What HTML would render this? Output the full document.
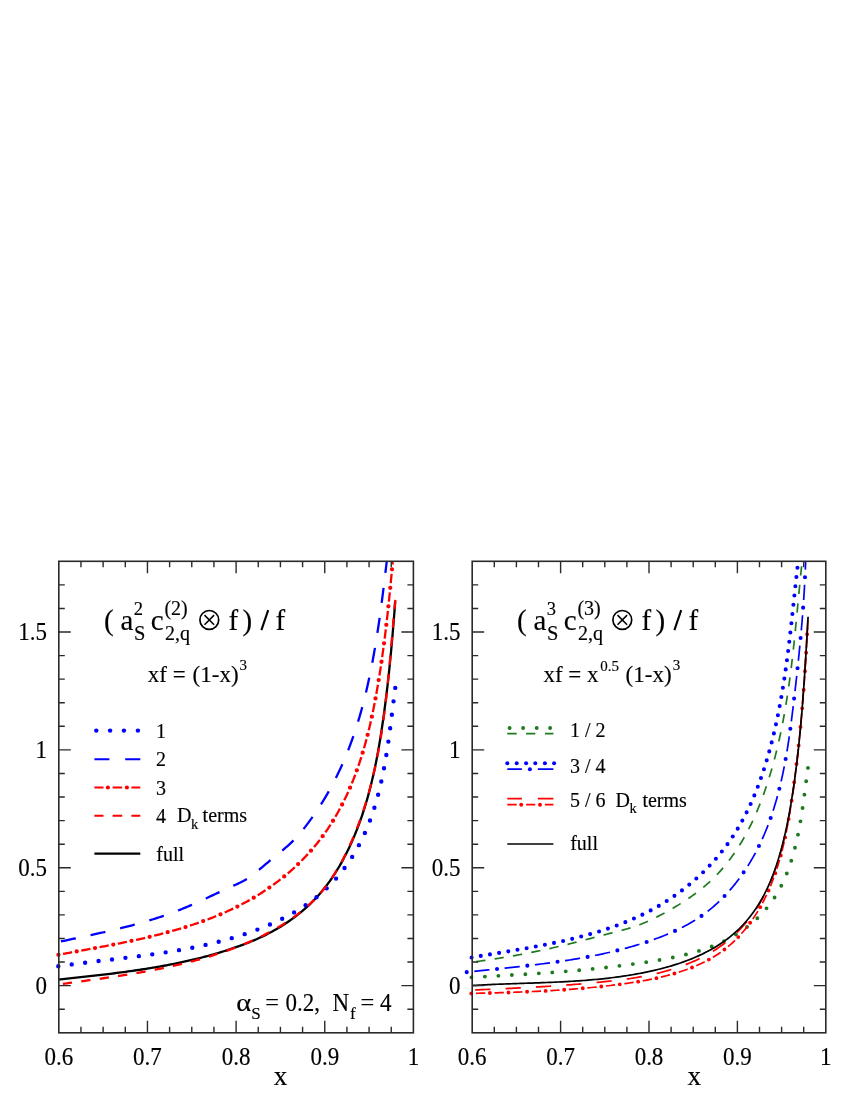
<!DOCTYPE html>
<html><head><meta charset="utf-8"><title>chart</title>
<style>html,body{margin:0;padding:0;background:#fff}svg{display:block}</style></head>
<body>
<svg width="850" height="1100" viewBox="0 0 850 1100" style="will-change:transform" font-family="Liberation Serif, serif" fill="#000"><style>text{stroke:#000;stroke-width:0.15px}</style>
<defs><clipPath id="cl"><rect x="58.8" y="561.3" width="354.59999999999997" height="471.5"/></clipPath><clipPath id="cr"><rect x="472.2" y="561.3" width="353.59999999999997" height="471.5"/></clipPath></defs>
<rect width="850" height="1100" fill="#fff"/>
<g id="left-curves">
<path d="M58.26,979.51 L60.50,979.27 L62.74,979.04 L64.99,978.80 L67.23,978.57 L69.48,978.33 L71.73,978.09 L73.98,977.85 L76.22,977.61 L78.47,977.37 L80.73,977.13 L82.98,976.89 L85.23,976.65 L87.48,976.40 L89.74,976.15 L91.99,975.90 L94.24,975.65 L96.50,975.39 L98.75,975.14 L101.01,974.88 L103.27,974.61 L105.52,974.35 L107.78,974.08 L110.03,973.80 L112.29,973.52 L114.55,973.24 L116.80,972.96 L119.06,972.67 L121.31,972.38 L123.57,972.08 L125.82,971.77 L128.08,971.47 L130.33,971.15 L132.59,970.84 L134.84,970.51 L137.09,970.19 L139.34,969.85 L141.59,969.51 L143.84,969.16 L146.09,968.81 L148.34,968.45 L150.59,968.09 L152.83,967.72 L155.08,967.34 L157.32,966.95 L159.56,966.56 L161.80,966.16 L164.04,965.75 L166.28,965.34 L168.52,964.91 L170.75,964.48 L172.99,964.04 L175.22,963.59 L177.45,963.14 L179.68,962.67 L181.91,962.20 L184.13,961.71 L186.35,961.22 L188.58,960.72 L190.80,960.21 L193.01,959.69 L195.23,959.16 L197.44,958.61 L199.65,958.06 L201.86,957.50 L204.06,956.93 L206.27,956.35 L208.47,955.75 L210.67,955.15 L212.86,954.53 L215.05,953.90 L217.24,953.26 L219.43,952.61 L221.61,951.95 L223.80,951.27 L225.97,950.59 L228.15,949.89 L230.32,949.18 L232.49,948.45 L234.65,947.71 L236.81,946.96 L238.97,946.19 L241.11,945.40 L243.25,944.60 L245.39,943.79 L247.52,942.95 L249.63,942.10 L251.75,941.23 L253.85,940.34 L255.94,939.44 L258.02,938.51 L260.10,937.57 L262.16,936.60 L264.21,935.61 L266.25,934.60 L268.27,933.57 L270.29,932.52 L272.29,931.44 L274.27,930.34 L276.25,929.22 L278.21,928.07 L280.15,926.90 L282.08,925.71 L283.99,924.50 L285.89,923.26 L287.77,922.00 L289.63,920.72 L291.48,919.41 L293.31,918.09 L295.12,916.73 L296.91,915.36 L298.68,913.97 L300.44,912.55 L302.17,911.10 L303.89,909.64 L305.58,908.15 L307.25,906.64 L308.91,905.11 L310.54,903.56 L312.14,901.98 L313.73,900.38 L315.29,898.75 L316.83,897.11 L318.35,895.44 L319.84,893.75 L321.31,892.03 L322.76,890.30 L324.18,888.54 L325.57,886.77 L326.95,884.97 L328.30,883.15 L329.63,881.32 L330.94,879.47 L332.22,877.60 L333.48,875.71 L334.73,873.81 L335.95,871.89 L337.15,869.96 L338.32,868.01 L339.48,866.05 L340.62,864.07 L341.74,862.09 L342.84,860.09 L343.91,858.08 L344.97,856.06 L346.02,854.03 L347.04,851.99 L348.04,849.94 L349.03,847.88 L349.99,845.82 L350.94,843.75 L351.88,841.67 L352.79,839.59 L353.69,837.50 L354.57,835.40 L355.44,833.30 L356.29,831.19 L357.12,829.07 L357.94,826.95 L358.74,824.83 L359.53,822.70 L360.30,820.56 L361.05,818.42 L361.80,816.27 L362.52,814.12 L363.24,811.96 L363.93,809.80 L364.62,807.63 L365.29,805.46 L365.95,803.28 L366.59,801.10 L367.23,798.92 L367.85,796.73 L368.45,794.53 L369.05,792.34 L369.63,790.14 L370.20,787.93 L370.76,785.73 L371.31,783.52 L371.85,781.30 L372.37,779.08 L372.89,776.86 L373.39,774.64 L373.89,772.42 L374.38,770.19 L374.85,767.96 L375.32,765.73 L375.77,763.49 L376.22,761.25 L376.66,759.01 L377.09,756.77 L377.51,754.53 L377.93,752.29 L378.33,750.04 L378.73,747.79 L379.12,745.55 L379.50,743.30 L379.88,741.05 L380.25,738.79 L380.61,736.54 L380.97,734.29 L381.32,732.04 L381.66,729.78 L382.00,727.53 L382.33,725.28 L382.66,723.02 L382.99,720.77 L383.30,718.51 L383.62,716.26 L383.93,714.01 L384.23,711.76 L384.53,709.50 L384.83,707.25 L385.12,705.00 L385.41,702.75 L385.70,700.50 L385.98,698.25 L386.26,696.00 L386.53,693.76 L386.80,691.51 L387.07,689.26 L387.33,687.01 L387.59,684.76 L387.85,682.51 L388.10,680.26 L388.35,678.01 L388.60,675.76 L388.84,673.51 L389.08,671.26 L389.32,669.01 L389.55,666.76 L389.78,664.51 L390.01,662.26 L390.23,660.00 L390.45,657.75 L390.67,655.50 L390.89,653.24 L391.10,650.99 L391.31,648.73 L391.52,646.47 L391.73,644.21 L391.93,641.96 L392.13,639.69 L392.33,637.43 L392.53,635.17 L392.72,632.91 L392.91,630.64 L393.10,628.38 L393.29,626.11 L393.48,623.84 L393.66,621.57 L393.84,619.30 L394.02,617.02 L394.20,614.75 L394.38,612.47 L394.55,610.19 L394.72,607.91 L394.89,605.63 L395.06,603.35 L395.23,601.06" fill="none" stroke="#000" stroke-width="2.3" stroke-linecap="butt" stroke-linejoin="round" clip-path="url(#cl)"/>
<path d="M53.52,943.05 L55.64,942.59 L57.77,942.13 L59.90,941.68 L62.02,941.22 L64.15,940.76 L66.28,940.31 L68.41,939.86 L70.54,939.41 L72.67,938.95 L74.81,938.50 L76.94,938.05 L79.07,937.60 L81.20,937.14 L83.34,936.69 L85.47,936.23 L87.60,935.77 L89.73,935.31 L91.87,934.85 L94.00,934.39 L96.13,933.92 L98.26,933.45 L100.39,932.97 L102.52,932.50 L104.64,932.01 L106.77,931.53 L108.90,931.04 L111.02,930.54 L113.15,930.04 L115.27,929.54 L117.39,929.03 L119.51,928.51 L121.62,927.99 L123.74,927.46 L125.85,926.93 L127.97,926.39 L130.08,925.84 L132.18,925.28 L134.29,924.72 L136.39,924.14 L138.49,923.56 L140.59,922.98 L142.69,922.38 L144.78,921.77 L146.87,921.16 L148.96,920.53 L151.04,919.89 L153.13,919.25 L155.20,918.59 L157.28,917.93 L159.35,917.25 L161.42,916.56 L163.49,915.86 L165.55,915.15 L167.60,914.42 L169.66,913.69 L171.71,912.94 L173.76,912.17 L175.80,911.40 L177.84,910.61 L179.87,909.81 L181.90,908.99 L183.92,908.16 L185.94,907.32 L187.96,906.47 L189.98,905.61 L191.99,904.73 L193.99,903.85 L196.00,902.96 L197.99,902.07 L199.99,901.16 L201.99,900.26 L203.98,899.34 L205.96,898.43 L207.95,897.51 L209.93,896.58 L211.91,895.66 L213.89,894.73 L215.87,893.81 L217.84,892.89 L219.82,891.97 L221.79,891.05 L223.76,890.13 L225.72,889.22 L227.69,888.31 L229.66,887.41 L231.62,886.52 L233.58,885.63 L235.55,884.75 L237.50,883.87 L239.44,882.97 L241.36,882.03 L243.26,881.06 L245.12,880.02 L246.94,878.93 L248.74,877.77 L250.50,876.55 L252.23,875.29 L253.94,873.99 L255.64,872.65 L257.32,871.28 L258.99,869.89 L260.65,868.49 L262.31,867.07 L263.98,865.65 L265.65,864.23 L267.33,862.83 L269.02,861.43 L270.71,860.04 L272.41,858.65 L274.12,857.27 L275.82,855.89 L277.52,854.50 L279.21,853.11 L280.90,851.72 L282.58,850.31 L284.24,848.89 L285.89,847.46 L287.52,846.02 L289.14,844.55 L290.73,843.07 L292.30,841.56 L293.84,840.03 L295.35,838.47 L296.83,836.89 L298.28,835.27 L299.71,833.64 L301.12,831.98 L302.50,830.30 L303.86,828.61 L305.20,826.89 L306.53,825.17 L307.84,823.42 L309.14,821.67 L310.43,819.91 L311.70,818.14 L312.96,816.36 L314.21,814.57 L315.45,812.77 L316.67,810.97 L317.89,809.15 L319.08,807.32 L320.27,805.49 L321.44,803.65 L322.60,801.80 L323.74,799.94 L324.87,798.07 L325.98,796.20 L327.08,794.31 L328.17,792.42 L329.24,790.52 L330.30,788.62 L331.34,786.70 L332.37,784.78 L333.38,782.85 L334.39,780.92 L335.37,778.97 L336.35,777.02 L337.31,775.07 L338.26,773.10 L339.19,771.13 L340.11,769.16 L341.02,767.18 L341.91,765.19 L342.80,763.20 L343.66,761.20 L344.52,759.19 L345.36,757.18 L346.20,755.16 L347.02,753.14 L347.82,751.12 L348.62,749.09 L349.40,747.05 L350.17,745.01 L350.93,742.96 L351.68,740.91 L352.41,738.86 L353.14,736.80 L353.85,734.74 L354.55,732.67 L355.24,730.60 L355.92,728.53 L356.59,726.45 L357.24,724.37 L357.89,722.29 L358.52,720.20 L359.15,718.11 L359.76,716.02 L360.37,713.92 L360.96,711.83 L361.54,709.72 L362.12,707.62 L362.68,705.52 L363.23,703.41 L363.78,701.30 L364.31,699.19 L364.84,697.07 L365.36,694.96 L365.87,692.84 L366.37,690.72 L366.86,688.60 L367.35,686.47 L367.83,684.35 L368.30,682.22 L368.76,680.09 L369.22,677.96 L369.67,675.83 L370.11,673.70 L370.55,671.56 L370.98,669.43 L371.40,667.29 L371.82,665.15 L372.23,663.01 L372.63,660.87 L373.03,658.73 L373.42,656.58 L373.81,654.44 L374.19,652.29 L374.57,650.15 L374.94,648.00 L375.30,645.85 L375.66,643.70 L376.02,641.55 L376.37,639.39 L376.71,637.24 L377.05,635.09 L377.39,632.93 L377.72,630.78 L378.05,628.62 L378.37,626.46 L378.69,624.31 L379.00,622.15 L379.32,619.99 L379.62,617.83 L379.93,615.67 L380.23,613.51 L380.53,611.35 L380.82,609.19 L381.11,607.03 L381.40,604.86 L381.68,602.70 L381.97,600.54 L382.25,598.38 L382.52,596.21 L382.80,594.05 L383.07,591.89 L383.34,589.72 L383.61,587.56 L383.88,585.40 L384.14,583.23 L384.40,581.07 L384.67,578.91 L384.93,576.74 L385.19,574.58 L385.44,572.42 L385.70,570.25 L385.96,568.09 L386.21,565.93 L386.46,563.77 L386.72,561.61" fill="none" stroke="#0000ff" stroke-width="2.3" stroke-linecap="butt" stroke-linejoin="round" stroke-dasharray="15.15 15.15" stroke-dashoffset="-7.6" clip-path="url(#cl)"/>
<path d="M58.42,954.78 L60.56,954.38 L62.71,953.98 L64.86,953.58 L67.02,953.18 L69.18,952.78 L71.34,952.39 L73.52,951.99 L75.69,951.59 L77.87,951.20 L80.05,950.80 L82.24,950.40 L84.43,950.00 L86.63,949.60 L88.82,949.20 L91.03,948.79 L93.23,948.38 L95.43,947.98 L97.64,947.56 L99.85,947.15 L102.07,946.74 L104.28,946.32 L106.50,945.89 L108.72,945.47 L110.94,945.04 L113.16,944.61 L115.39,944.17 L117.61,943.73 L119.83,943.28 L122.06,942.83 L124.29,942.38 L126.51,941.92 L128.74,941.45 L130.97,940.98 L133.19,940.51 L135.42,940.02 L137.65,939.53 L139.87,939.04 L142.10,938.54 L144.32,938.03 L146.54,937.52 L148.76,937.00 L150.98,936.47 L153.20,935.93 L155.42,935.39 L157.63,934.83 L159.84,934.27 L162.05,933.70 L164.26,933.13 L166.46,932.54 L168.66,931.95 L170.86,931.34 L173.06,930.73 L175.25,930.10 L177.44,929.47 L179.62,928.83 L181.80,928.18 L183.98,927.51 L186.15,926.84 L188.32,926.15 L190.49,925.46 L192.64,924.75 L194.80,924.03 L196.95,923.30 L199.09,922.56 L201.23,921.80 L203.36,921.03 L205.49,920.25 L207.61,919.46 L209.73,918.66 L211.84,917.84 L213.94,917.01 L216.04,916.16 L218.12,915.30 L220.21,914.43 L222.28,913.54 L224.35,912.64 L226.41,911.72 L228.47,910.79 L230.51,909.85 L232.55,908.89 L234.58,907.91 L236.60,906.92 L238.61,905.91 L240.62,904.88 L242.61,903.84 L244.60,902.79 L246.58,901.71 L248.54,900.62 L250.50,899.52 L252.45,898.39 L254.39,897.25 L256.32,896.09 L258.24,894.91 L260.15,893.72 L262.05,892.50 L263.93,891.27 L265.81,890.03 L267.68,888.76 L269.53,887.48 L271.37,886.18 L273.20,884.87 L275.02,883.54 L276.82,882.19 L278.61,880.82 L280.39,879.44 L282.16,878.04 L283.91,876.62 L285.65,875.19 L287.37,873.75 L289.09,872.28 L290.78,870.80 L292.46,869.31 L294.13,867.79 L295.78,866.26 L297.42,864.72 L299.04,863.16 L300.64,861.59 L302.23,859.99 L303.81,858.39 L305.36,856.77 L306.90,855.13 L308.43,853.48 L309.93,851.81 L311.42,850.13 L312.89,848.43 L314.35,846.71 L315.78,844.99 L317.20,843.24 L318.60,841.49 L319.98,839.71 L321.34,837.93 L322.68,836.13 L324.00,834.31 L325.30,832.48 L326.59,830.64 L327.85,828.78 L329.10,826.91 L330.33,825.03 L331.53,823.13 L332.72,821.22 L333.90,819.30 L335.05,817.37 L336.18,815.43 L337.30,813.48 L338.40,811.51 L339.48,809.54 L340.55,807.55 L341.59,805.56 L342.62,803.55 L343.63,801.54 L344.63,799.52 L345.60,797.48 L346.57,795.44 L347.51,793.40 L348.44,791.34 L349.35,789.28 L350.24,787.21 L351.12,785.13 L351.98,783.05 L352.83,780.96 L353.66,778.86 L354.48,776.76 L355.28,774.65 L356.06,772.54 L356.83,770.41 L357.59,768.29 L358.33,766.16 L359.06,764.02 L359.78,761.87 L360.48,759.73 L361.17,757.57 L361.84,755.42 L362.50,753.25 L363.15,751.09 L363.79,748.91 L364.42,746.74 L365.03,744.56 L365.63,742.38 L366.22,740.19 L366.80,738.00 L367.37,735.80 L367.93,733.60 L368.47,731.40 L369.01,729.20 L369.54,726.99 L370.05,724.78 L370.56,722.57 L371.06,720.35 L371.55,718.14 L372.03,715.92 L372.50,713.69 L372.96,711.47 L373.41,709.25 L373.86,707.02 L374.30,704.79 L374.73,702.56 L375.15,700.33 L375.57,698.10 L375.98,695.87 L376.38,693.63 L376.77,691.40 L377.16,689.17 L377.55,686.93 L377.93,684.70 L378.30,682.46 L378.66,680.23 L379.03,677.99 L379.38,675.76 L379.74,673.53 L380.08,671.29 L380.42,669.06 L380.76,666.83 L381.09,664.60 L381.42,662.36 L381.75,660.13 L382.06,657.90 L382.38,655.67 L382.69,653.44 L383.00,651.20 L383.30,648.97 L383.60,646.74 L383.89,644.51 L384.18,642.28 L384.47,640.04 L384.75,637.81 L385.03,635.58 L385.30,633.35 L385.58,631.12 L385.85,628.88 L386.11,626.65 L386.37,624.42 L386.63,622.18 L386.89,619.95 L387.14,617.72 L387.39,615.48 L387.64,613.25 L387.88,611.01 L388.12,608.78 L388.36,606.54 L388.60,604.31 L388.83,602.07 L389.06,599.83 L389.29,597.60 L389.52,595.36 L389.74,593.12 L389.96,590.88 L390.19,588.64 L390.40,586.40 L390.62,584.16 L390.84,581.92 L391.05,579.68 L391.26,577.43 L391.47,575.19 L391.68,572.95 L391.89,570.70 L392.09,568.45 L392.30,566.21 L392.50,563.96 L392.70,561.71" fill="none" stroke="#ff0000" stroke-width="2.3" stroke-linecap="butt" stroke-linejoin="round" stroke-dasharray="9.30 9.30" stroke-dashoffset="-4.65" clip-path="url(#cl)"/>
<path d="M58.42,954.78 L60.56,954.38 L62.71,953.98 L64.86,953.58 L67.02,953.18 L69.18,952.78 L71.34,952.39 L73.52,951.99 L75.69,951.59 L77.87,951.20 L80.05,950.80 L82.24,950.40 L84.43,950.00 L86.63,949.60 L88.82,949.20 L91.03,948.79 L93.23,948.38 L95.43,947.98 L97.64,947.56 L99.85,947.15 L102.07,946.74 L104.28,946.32 L106.50,945.89 L108.72,945.47 L110.94,945.04 L113.16,944.61 L115.39,944.17 L117.61,943.73 L119.83,943.28 L122.06,942.83 L124.29,942.38 L126.51,941.92 L128.74,941.45 L130.97,940.98 L133.19,940.51 L135.42,940.02 L137.65,939.53 L139.87,939.04 L142.10,938.54 L144.32,938.03 L146.54,937.52 L148.76,937.00 L150.98,936.47 L153.20,935.93 L155.42,935.39 L157.63,934.83 L159.84,934.27 L162.05,933.70 L164.26,933.13 L166.46,932.54 L168.66,931.95 L170.86,931.34 L173.06,930.73 L175.25,930.10 L177.44,929.47 L179.62,928.83 L181.80,928.18 L183.98,927.51 L186.15,926.84 L188.32,926.15 L190.49,925.46 L192.64,924.75 L194.80,924.03 L196.95,923.30 L199.09,922.56 L201.23,921.80 L203.36,921.03 L205.49,920.25 L207.61,919.46 L209.73,918.66 L211.84,917.84 L213.94,917.01 L216.04,916.16 L218.12,915.30 L220.21,914.43 L222.28,913.54 L224.35,912.64 L226.41,911.72 L228.47,910.79 L230.51,909.85 L232.55,908.89 L234.58,907.91 L236.60,906.92 L238.61,905.91 L240.62,904.88 L242.61,903.84 L244.60,902.79 L246.58,901.71 L248.54,900.62 L250.50,899.52 L252.45,898.39 L254.39,897.25 L256.32,896.09 L258.24,894.91 L260.15,893.72 L262.05,892.50 L263.93,891.27 L265.81,890.03 L267.68,888.76 L269.53,887.48 L271.37,886.18 L273.20,884.87 L275.02,883.54 L276.82,882.19 L278.61,880.82 L280.39,879.44 L282.16,878.04 L283.91,876.62 L285.65,875.19 L287.37,873.75 L289.09,872.28 L290.78,870.80 L292.46,869.31 L294.13,867.79 L295.78,866.26 L297.42,864.72 L299.04,863.16 L300.64,861.59 L302.23,859.99 L303.81,858.39 L305.36,856.77 L306.90,855.13 L308.43,853.48 L309.93,851.81 L311.42,850.13 L312.89,848.43 L314.35,846.71 L315.78,844.99 L317.20,843.24 L318.60,841.49 L319.98,839.71 L321.34,837.93 L322.68,836.13 L324.00,834.31 L325.30,832.48 L326.59,830.64 L327.85,828.78 L329.10,826.91 L330.33,825.03 L331.53,823.13 L332.72,821.22 L333.90,819.30 L335.05,817.37 L336.18,815.43 L337.30,813.48 L338.40,811.51 L339.48,809.54 L340.55,807.55 L341.59,805.56 L342.62,803.55 L343.63,801.54 L344.63,799.52 L345.60,797.48 L346.57,795.44 L347.51,793.40 L348.44,791.34 L349.35,789.28 L350.24,787.21 L351.12,785.13 L351.98,783.05 L352.83,780.96 L353.66,778.86 L354.48,776.76 L355.28,774.65 L356.06,772.54 L356.83,770.41 L357.59,768.29 L358.33,766.16 L359.06,764.02 L359.78,761.87 L360.48,759.73 L361.17,757.57 L361.84,755.42 L362.50,753.25 L363.15,751.09 L363.79,748.91 L364.42,746.74 L365.03,744.56 L365.63,742.38 L366.22,740.19 L366.80,738.00 L367.37,735.80 L367.93,733.60 L368.47,731.40 L369.01,729.20 L369.54,726.99 L370.05,724.78 L370.56,722.57 L371.06,720.35 L371.55,718.14 L372.03,715.92 L372.50,713.69 L372.96,711.47 L373.41,709.25 L373.86,707.02 L374.30,704.79 L374.73,702.56 L375.15,700.33 L375.57,698.10 L375.98,695.87 L376.38,693.63 L376.77,691.40 L377.16,689.17 L377.55,686.93 L377.93,684.70 L378.30,682.46 L378.66,680.23 L379.03,677.99 L379.38,675.76 L379.74,673.53 L380.08,671.29 L380.42,669.06 L380.76,666.83 L381.09,664.60 L381.42,662.36 L381.75,660.13 L382.06,657.90 L382.38,655.67 L382.69,653.44 L383.00,651.20 L383.30,648.97 L383.60,646.74 L383.89,644.51 L384.18,642.28 L384.47,640.04 L384.75,637.81 L385.03,635.58 L385.30,633.35 L385.58,631.12 L385.85,628.88 L386.11,626.65 L386.37,624.42 L386.63,622.18 L386.89,619.95 L387.14,617.72 L387.39,615.48 L387.64,613.25 L387.88,611.01 L388.12,608.78 L388.36,606.54 L388.60,604.31 L388.83,602.07 L389.06,599.83 L389.29,597.60 L389.52,595.36 L389.74,593.12 L389.96,590.88 L390.19,588.64 L390.40,586.40 L390.62,584.16 L390.84,581.92 L391.05,579.68 L391.26,577.43 L391.47,575.19 L391.68,572.95 L391.89,570.70 L392.09,568.45 L392.30,566.21 L392.50,563.96 L392.70,561.71" fill="none" stroke="#ff0000" stroke-width="4.3" stroke-linecap="round" stroke-linejoin="round" stroke-dasharray="0 18.60" stroke-dashoffset="0"/>
<path d="M58.31,966.27 L60.21,966.00 L62.11,965.73 L64.01,965.46 L65.91,965.20 L67.81,964.94 L69.72,964.68 L71.62,964.43 L73.53,964.18 L75.44,963.93 L77.35,963.68 L79.26,963.44 L81.18,963.20 L83.09,962.96 L85.01,962.72 L86.93,962.48 L88.84,962.24 L90.76,962.01 L92.68,961.78 L94.61,961.55 L96.53,961.31 L98.45,961.08 L100.37,960.85 L102.30,960.62 L104.22,960.39 L106.15,960.17 L108.08,959.94 L110.00,959.71 L111.93,959.48 L113.86,959.25 L115.79,959.02 L117.72,958.79 L119.64,958.55 L121.57,958.32 L123.50,958.09 L125.43,957.85 L127.36,957.61 L129.29,957.37 L131.22,957.13 L133.15,956.89 L135.08,956.65 L137.01,956.40 L138.94,956.15 L140.87,955.90 L142.80,955.64 L144.73,955.39 L146.66,955.13 L148.59,954.86 L150.52,954.60 L152.44,954.33 L154.37,954.05 L156.30,953.78 L158.22,953.50 L160.15,953.21 L162.07,952.92 L163.99,952.63 L165.92,952.33 L167.84,952.03 L169.76,951.72 L171.68,951.41 L173.60,951.09 L175.51,950.77 L177.43,950.45 L179.35,950.11 L181.26,949.78 L183.17,949.43 L185.08,949.08 L186.99,948.73 L188.90,948.36 L190.81,948.00 L192.72,947.62 L194.62,947.24 L196.52,946.85 L198.43,946.46 L200.32,946.06 L202.22,945.65 L204.12,945.23 L206.01,944.81 L207.90,944.38 L209.79,943.94 L211.68,943.49 L213.57,943.04 L215.45,942.57 L217.33,942.10 L219.21,941.62 L221.09,941.13 L222.97,940.63 L224.84,940.13 L226.71,939.61 L228.58,939.09 L230.45,938.55 L232.31,938.01 L234.17,937.46 L236.03,936.89 L237.88,936.32 L239.74,935.74 L241.59,935.14 L243.43,934.54 L245.28,933.93 L247.12,933.30 L248.96,932.67 L250.79,932.02 L252.63,931.36 L254.46,930.69 L256.28,930.01 L258.11,929.32 L259.93,928.61 L261.74,927.90 L263.55,927.17 L265.36,926.43 L267.16,925.68 L268.96,924.91 L270.75,924.14 L272.54,923.34 L274.32,922.54 L276.10,921.72 L277.86,920.89 L279.62,920.05 L281.38,919.19 L283.12,918.32 L284.86,917.44 L286.59,916.54 L288.31,915.62 L290.02,914.70 L291.72,913.75 L293.41,912.79 L295.09,911.82 L296.76,910.83 L298.42,909.83 L300.07,908.81 L301.71,907.78 L303.33,906.73 L304.94,905.66 L306.54,904.58 L308.13,903.48 L309.71,902.37 L311.27,901.24 L312.81,900.09 L314.35,898.92 L315.87,897.74 L317.37,896.54 L318.86,895.32 L320.33,894.09 L321.79,892.84 L323.23,891.57 L324.65,890.28 L326.06,888.97 L327.45,887.65 L328.82,886.30 L330.18,884.94 L331.51,883.56 L332.83,882.17 L334.14,880.76 L335.42,879.33 L336.69,877.88 L337.94,876.42 L339.18,874.94 L340.40,873.45 L341.60,871.94 L342.78,870.42 L343.94,868.88 L345.09,867.33 L346.22,865.77 L347.34,864.19 L348.43,862.60 L349.51,861.00 L350.58,859.38 L351.62,857.76 L352.65,856.12 L353.66,854.47 L354.66,852.80 L355.63,851.13 L356.59,849.45 L357.54,847.76 L358.46,846.05 L359.37,844.34 L360.27,842.62 L361.14,840.89 L362.00,839.15 L362.84,837.41 L363.67,835.65 L364.48,833.89 L365.27,832.12 L366.04,830.35 L366.80,828.56 L367.54,826.77 L368.27,824.98 L368.98,823.18 L369.67,821.37 L370.35,819.55 L371.02,817.73 L371.67,815.91 L372.30,814.08 L372.93,812.24 L373.53,810.40 L374.13,808.55 L374.71,806.70 L375.28,804.84 L375.83,802.98 L376.37,801.11 L376.90,799.24 L377.42,797.37 L377.93,795.49 L378.42,793.60 L378.90,791.72 L379.38,789.83 L379.84,787.93 L380.29,786.03 L380.73,784.13 L381.16,782.23 L381.58,780.32 L381.99,778.41 L382.39,776.50 L382.78,774.59 L383.17,772.67 L383.54,770.75 L383.91,768.83 L384.27,766.91 L384.62,764.98 L384.96,763.06 L385.30,761.13 L385.63,759.20 L385.95,757.27 L386.27,755.34 L386.58,753.41 L386.88,751.48 L387.18,749.54 L387.47,747.61 L387.76,745.68 L388.04,743.74 L388.32,741.81 L388.59,739.88 L388.86,737.94 L389.13,736.01 L389.39,734.08 L389.65,732.15 L389.90,730.22 L390.15,728.29 L390.40,726.36 L390.65,724.44 L390.89,722.51 L391.14,720.59 L391.38,718.67 L391.62,716.75 L391.85,714.83 L392.09,712.92 L392.33,711.01 L392.56,709.10 L392.80,707.19 L393.04,705.29 L393.27,703.39 L393.51,701.49 L393.75,699.60 L393.99,697.71 L394.23,695.82 L394.47,693.94 L394.71,692.06 L394.96,690.18 L395.21,688.31 L395.46,686.45" fill="none" stroke="#0000ff" stroke-width="4.4" stroke-linecap="round" stroke-linejoin="round" stroke-dasharray="0 13.53" stroke-dashoffset="0"/>
<path d="M58.22,984.51 L60.46,984.20 L62.70,983.89 L64.95,983.58 L67.19,983.27 L69.44,982.96 L71.69,982.65 L73.94,982.34 L76.19,982.03 L78.44,981.72 L80.69,981.41 L82.95,981.10 L85.20,980.79 L87.46,980.48 L89.72,980.17 L91.98,979.85 L94.24,979.53 L96.50,979.22 L98.76,978.90 L101.02,978.57 L103.28,978.25 L105.54,977.92 L107.80,977.59 L110.07,977.26 L112.33,976.92 L114.59,976.58 L116.85,976.24 L119.11,975.89 L121.38,975.54 L123.64,975.18 L125.90,974.82 L128.16,974.46 L130.42,974.09 L132.68,973.72 L134.93,973.34 L137.19,972.95 L139.45,972.56 L141.70,972.17 L143.96,971.77 L146.21,971.36 L148.46,970.95 L150.71,970.53 L152.96,970.10 L155.21,969.67 L157.45,969.23 L159.70,968.78 L161.94,968.33 L164.18,967.87 L166.42,967.40 L168.66,966.92 L170.89,966.43 L173.12,965.94 L175.35,965.44 L177.58,964.93 L179.80,964.41 L182.03,963.88 L184.25,963.34 L186.46,962.79 L188.68,962.23 L190.89,961.67 L193.10,961.09 L195.30,960.50 L197.50,959.90 L199.70,959.29 L201.90,958.67 L204.09,958.04 L206.28,957.40 L208.46,956.75 L210.65,956.09 L212.82,955.41 L215.00,954.72 L217.17,954.02 L219.33,953.31 L221.50,952.58 L223.65,951.85 L225.81,951.10 L227.96,950.33 L230.10,949.56 L232.24,948.77 L234.38,947.96 L236.51,947.14 L238.63,946.31 L240.76,945.47 L242.87,944.61 L244.98,943.73 L247.09,942.84 L249.19,941.94 L251.29,941.02 L253.38,940.08 L255.46,939.13 L257.54,938.16 L259.61,937.18 L261.67,936.18 L263.73,935.16 L265.77,934.13 L267.81,933.08 L269.83,932.01 L271.85,930.92 L273.85,929.81 L275.84,928.68 L277.82,927.54 L279.79,926.37 L281.74,925.19 L283.68,923.98 L285.60,922.76 L287.51,921.51 L289.40,920.24 L291.27,918.95 L293.13,917.64 L294.97,916.31 L296.79,914.95 L298.60,913.57 L300.38,912.17 L302.15,910.75 L303.89,909.30 L305.61,907.82 L307.31,906.33 L308.99,904.80 L310.65,903.26 L312.28,901.68 L313.89,900.08 L315.48,898.46 L317.04,896.81 L318.57,895.13 L320.08,893.42 L321.56,891.69 L323.02,889.94 L324.45,888.16 L325.85,886.35 L327.23,884.53 L328.59,882.68 L329.92,880.81 L331.23,878.92 L332.51,877.02 L333.77,875.09 L335.00,873.15 L336.21,871.20 L337.40,869.23 L338.57,867.25 L339.71,865.25 L340.83,863.25 L341.93,861.23 L343.01,859.20 L344.07,857.16 L345.11,855.11 L346.14,853.06 L347.14,851.00 L348.13,848.93 L349.10,846.85 L350.05,844.77 L350.99,842.68 L351.91,840.59 L352.82,838.49 L353.71,836.39 L354.59,834.28 L355.45,832.17 L356.29,830.05 L357.13,827.93 L357.94,825.80 L358.75,823.67 L359.54,821.53 L360.31,819.40 L361.07,817.25 L361.82,815.10 L362.56,812.95 L363.28,810.79 L363.98,808.63 L364.68,806.47 L365.36,804.30 L366.03,802.13 L366.69,799.95 L367.33,797.77 L367.97,795.59 L368.59,793.40 L369.20,791.21 L369.79,789.02 L370.38,786.82 L370.96,784.62 L371.52,782.42 L372.07,780.21 L372.61,778.00 L373.14,775.79 L373.66,773.57 L374.17,771.35 L374.68,769.13 L375.17,766.91 L375.65,764.68 L376.12,762.45 L376.58,760.22 L377.03,757.98 L377.47,755.74 L377.91,753.50 L378.33,751.26 L378.75,749.02 L379.16,746.77 L379.55,744.52 L379.95,742.27 L380.33,740.02 L380.70,737.77 L381.07,735.51 L381.43,733.25 L381.79,730.99 L382.13,728.73 L382.47,726.47 L382.80,724.20 L383.13,721.94 L383.45,719.67 L383.76,717.40 L384.07,715.13 L384.37,712.86 L384.66,710.59 L384.95,708.32 L385.23,706.04 L385.51,703.77 L385.78,701.49 L386.05,699.22 L386.31,696.94 L386.57,694.66 L386.82,692.38 L387.07,690.11 L387.32,687.83 L387.56,685.55 L387.80,683.27 L388.03,680.99 L388.26,678.71 L388.49,676.43 L388.71,674.15 L388.93,671.87 L389.15,669.59 L389.36,667.31 L389.58,665.03 L389.79,662.75 L389.99,660.47 L390.20,658.19 L390.40,655.92 L390.60,653.64 L390.81,651.36 L391.00,649.09 L391.20,646.81 L391.40,644.54 L391.60,642.26 L391.79,639.99 L391.99,637.72 L392.18,635.45 L392.37,633.18 L392.57,630.91 L392.76,628.65 L392.96,626.38 L393.15,624.12 L393.35,621.86 L393.54,619.60 L393.74,617.34 L393.94,615.08 L394.14,612.83 L394.34,610.58 L394.54,608.33 L394.75,606.08 L394.95,603.83 L395.16,601.58 L395.37,599.34" fill="none" stroke="#ff0000" stroke-width="2.3" stroke-linecap="butt" stroke-linejoin="round" stroke-dasharray="9.30 9.30" stroke-dashoffset="-4.65" clip-path="url(#cl)"/>
</g>
<g id="right-curves">
<path d="M471.43,977.37 L473.23,977.27 L475.04,977.17 L476.84,977.07 L478.64,976.97 L480.44,976.87 L482.24,976.77 L484.03,976.67 L485.83,976.57 L487.62,976.47 L489.41,976.37 L491.20,976.27 L492.99,976.17 L494.77,976.07 L496.56,975.96 L498.34,975.86 L500.13,975.76 L501.91,975.66 L503.69,975.56 L505.47,975.45 L507.25,975.35 L509.02,975.24 L510.80,975.14 L512.57,975.03 L514.35,974.93 L516.12,974.82 L517.89,974.71 L519.66,974.60 L521.43,974.49 L523.20,974.38 L524.97,974.27 L526.74,974.16 L528.50,974.05 L530.27,973.93 L532.03,973.82 L533.79,973.70 L535.56,973.58 L537.32,973.46 L539.08,973.34 L540.84,973.22 L542.60,973.10 L544.36,972.97 L546.12,972.85 L547.88,972.72 L549.64,972.59 L551.39,972.46 L553.15,972.33 L554.91,972.20 L556.66,972.06 L558.42,971.93 L560.17,971.79 L561.93,971.65 L563.68,971.51 L565.44,971.36 L567.19,971.22 L568.94,971.07 L570.70,970.92 L572.45,970.77 L574.21,970.62 L575.96,970.46 L577.71,970.31 L579.46,970.15 L581.22,969.99 L582.97,969.82 L584.72,969.66 L586.48,969.49 L588.23,969.32 L589.98,969.15 L591.74,968.97 L593.49,968.79 L595.25,968.61 L597.00,968.43 L598.75,968.24 L600.51,968.06 L602.26,967.87 L604.02,967.67 L605.77,967.48 L607.53,967.28 L609.29,967.08 L611.04,966.87 L612.80,966.67 L614.56,966.46 L616.32,966.24 L618.08,966.03 L619.84,965.81 L621.60,965.59 L623.36,965.36 L625.12,965.13 L626.88,964.90 L628.64,964.67 L630.41,964.43 L632.17,964.19 L633.94,963.94 L635.70,963.69 L637.47,963.44 L639.24,963.19 L641.01,962.93 L642.78,962.67 L644.55,962.40 L646.32,962.13 L648.09,961.86 L649.87,961.58 L651.64,961.30 L653.42,961.02 L655.19,960.73 L656.96,960.43 L658.74,960.13 L660.51,959.82 L662.28,959.51 L664.06,959.19 L665.83,958.86 L667.59,958.53 L669.36,958.19 L671.13,957.84 L672.89,957.48 L674.65,957.11 L676.41,956.74 L678.16,956.35 L679.91,955.96 L681.66,955.56 L683.41,955.14 L685.15,954.72 L686.88,954.29 L688.61,953.84 L690.34,953.38 L692.06,952.91 L693.78,952.43 L695.49,951.94 L697.20,951.43 L698.90,950.92 L700.60,950.38 L702.29,949.84 L703.97,949.28 L705.64,948.70 L707.31,948.11 L708.97,947.51 L710.63,946.89 L712.27,946.26 L713.91,945.60 L715.54,944.94 L717.17,944.25 L718.78,943.55 L720.38,942.84 L721.98,942.10 L723.57,941.35 L725.14,940.58 L726.71,939.79 L728.27,938.98 L729.81,938.15 L731.35,937.30 L732.88,936.44 L734.39,935.55 L735.90,934.64 L737.39,933.71 L738.87,932.76 L740.34,931.79 L741.79,930.80 L743.24,929.79 L744.67,928.76 L746.08,927.71 L747.49,926.64 L748.87,925.55 L750.25,924.44 L751.60,923.31 L752.95,922.16 L754.27,921.00 L755.58,919.81 L756.87,918.61 L758.15,917.39 L759.41,916.14 L760.65,914.89 L761.87,913.61 L763.07,912.31 L764.25,911.00 L765.42,909.67 L766.56,908.33 L767.68,906.96 L768.78,905.58 L769.87,904.19 L770.93,902.77 L771.96,901.34 L772.98,899.90 L773.97,898.43 L774.94,896.96 L775.89,895.46 L776.81,893.96 L777.71,892.43 L778.59,890.90 L779.44,889.34 L780.28,887.78 L781.09,886.21 L781.89,884.62 L782.66,883.02 L783.41,881.41 L784.15,879.79 L784.86,878.16 L785.56,876.52 L786.24,874.87 L786.90,873.21 L787.55,871.55 L788.17,869.88 L788.78,868.20 L789.38,866.52 L789.96,864.83 L790.52,863.13 L791.07,861.43 L791.61,859.73 L792.13,858.02 L792.64,856.31 L793.13,854.60 L793.61,852.88 L794.08,851.16 L794.54,849.43 L794.99,847.71 L795.42,845.98 L795.84,844.25 L796.25,842.51 L796.65,840.77 L797.04,839.03 L797.42,837.29 L797.79,835.55 L798.15,833.80 L798.50,832.06 L798.85,830.31 L799.18,828.56 L799.51,826.80 L799.82,825.05 L800.14,823.30 L800.44,821.54 L800.74,819.78 L801.03,818.03 L801.31,816.27 L801.59,814.51 L801.86,812.75 L802.13,810.99 L802.39,809.23 L802.65,807.47 L802.90,805.71 L803.15,803.95 L803.40,802.19 L803.64,800.43 L803.88,798.68 L804.12,796.92 L804.35,795.16 L804.59,793.41 L804.82,791.65 L805.05,789.90 L805.28,788.14 L805.51,786.39 L805.73,784.64 L805.96,782.90 L806.19,781.15 L806.42,779.41 L806.65,777.66 L806.88,775.92 L807.11,774.19 L807.34,772.45 L807.58,770.72 L807.82,768.99 L808.06,767.26" fill="none" stroke="#1f7a1f" stroke-width="3.9" stroke-linecap="round" stroke-linejoin="round" stroke-dasharray="0 13.5" stroke-dashoffset="0"/>
<path d="M471.60,962.30 L473.88,961.99 L476.16,961.67 L478.43,961.35 L480.71,961.03 L482.99,960.70 L485.26,960.36 L487.54,960.02 L489.81,959.68 L492.08,959.33 L494.35,958.98 L496.62,958.62 L498.89,958.25 L501.16,957.88 L503.43,957.51 L505.70,957.13 L507.96,956.74 L510.23,956.35 L512.49,955.95 L514.76,955.55 L517.02,955.14 L519.28,954.73 L521.54,954.31 L523.80,953.88 L526.06,953.45 L528.31,953.01 L530.57,952.57 L532.82,952.12 L535.07,951.66 L537.33,951.20 L539.58,950.73 L541.82,950.26 L544.07,949.78 L546.32,949.29 L548.56,948.80 L550.81,948.30 L553.05,947.79 L555.29,947.28 L557.53,946.76 L559.77,946.23 L562.00,945.70 L564.24,945.16 L566.47,944.61 L568.70,944.06 L570.93,943.50 L573.16,942.94 L575.39,942.37 L577.62,941.80 L579.84,941.22 L582.07,940.64 L584.30,940.06 L586.52,939.48 L588.75,938.90 L590.97,938.31 L593.20,937.73 L595.43,937.15 L597.65,936.56 L599.88,935.98 L602.11,935.40 L604.34,934.83 L606.56,934.26 L608.80,933.69 L611.03,933.12 L613.26,932.56 L615.49,931.99 L617.71,931.42 L619.94,930.84 L622.15,930.25 L624.36,929.64 L626.57,929.02 L628.76,928.38 L630.94,927.71 L633.11,927.02 L635.27,926.30 L637.41,925.55 L639.54,924.76 L641.65,923.94 L643.75,923.08 L645.83,922.19 L647.90,921.28 L649.96,920.34 L652.01,919.38 L654.05,918.40 L656.08,917.40 L658.11,916.37 L660.13,915.33 L662.14,914.27 L664.15,913.19 L666.15,912.09 L668.15,910.97 L670.15,909.84 L672.15,908.68 L674.14,907.51 L676.13,906.32 L678.12,905.12 L680.11,903.89 L682.09,902.65 L684.06,901.39 L686.02,900.11 L687.97,898.81 L689.90,897.49 L691.83,896.15 L693.73,894.79 L695.62,893.41 L697.50,892.01 L699.35,890.59 L701.18,889.14 L702.98,887.68 L704.76,886.19 L706.52,884.68 L708.24,883.14 L709.95,881.59 L711.62,880.01 L713.27,878.41 L714.89,876.79 L716.49,875.15 L718.06,873.49 L719.61,871.81 L721.14,870.11 L722.64,868.39 L724.11,866.65 L725.56,864.89 L726.99,863.11 L728.40,861.32 L729.78,859.51 L731.14,857.68 L732.47,855.84 L733.79,853.98 L735.08,852.10 L736.35,850.21 L737.60,848.30 L738.83,846.38 L740.04,844.44 L741.23,842.49 L742.40,840.53 L743.54,838.55 L744.67,836.56 L745.78,834.55 L746.87,832.54 L747.94,830.51 L748.99,828.47 L750.03,826.42 L751.04,824.36 L752.04,822.29 L753.02,820.21 L753.98,818.12 L754.93,816.02 L755.86,813.91 L756.77,811.79 L757.66,809.67 L758.54,807.53 L759.41,805.39 L760.26,803.24 L761.09,801.09 L761.91,798.93 L762.72,796.76 L763.51,794.59 L764.28,792.41 L765.04,790.23 L765.79,788.04 L766.53,785.85 L767.25,783.65 L767.96,781.46 L768.66,779.25 L769.34,777.05 L770.02,774.84 L770.68,772.63 L771.33,770.42 L771.97,768.21 L772.60,765.99 L773.21,763.78 L773.82,761.56 L774.41,759.33 L774.99,757.11 L775.57,754.88 L776.13,752.66 L776.68,750.43 L777.23,748.19 L777.76,745.96 L778.28,743.72 L778.79,741.49 L779.30,739.25 L779.79,737.01 L780.28,734.76 L780.75,732.52 L781.22,730.27 L781.68,728.02 L782.13,725.77 L782.57,723.52 L783.00,721.27 L783.43,719.02 L783.85,716.76 L784.26,714.50 L784.66,712.24 L785.05,709.98 L785.44,707.72 L785.82,705.46 L786.19,703.19 L786.56,700.93 L786.92,698.66 L787.27,696.40 L787.62,694.13 L787.96,691.86 L788.29,689.58 L788.62,687.31 L788.95,685.04 L789.26,682.76 L789.57,680.49 L789.88,678.21 L790.18,675.94 L790.48,673.66 L790.77,671.38 L791.06,669.10 L791.34,666.82 L791.62,664.54 L791.89,662.25 L792.16,659.97 L792.42,657.69 L792.69,655.40 L792.94,653.12 L793.20,650.83 L793.45,648.55 L793.70,646.26 L793.94,643.97 L794.19,641.69 L794.43,639.40 L794.66,637.11 L794.90,634.82 L795.13,632.53 L795.36,630.25 L795.59,627.96 L795.82,625.67 L796.04,623.38 L796.27,621.09 L796.49,618.80 L796.71,616.51 L796.93,614.22 L797.15,611.93 L797.37,609.64 L797.59,607.35 L797.80,605.06 L798.02,602.77 L798.24,600.48 L798.46,598.19 L798.67,595.90 L798.89,593.61 L799.11,591.32 L799.33,589.03 L799.55,586.75 L799.77,584.46 L800.00,582.17 L800.22,579.88 L800.44,577.60 L800.67,575.31 L800.90,573.03 L801.13,570.74 L801.36,568.46 L801.60,566.17 L801.84,563.89 L802.08,561.61" fill="none" stroke="#1f7a1f" stroke-width="1.7" stroke-linecap="butt" stroke-linejoin="round" stroke-dasharray="9.30 9.30" stroke-dashoffset="-4.65" clip-path="url(#cr)"/>
<path d="M471.60,957.48 L473.71,957.11 L475.82,956.75 L477.94,956.39 L480.07,956.04 L482.20,955.68 L484.34,955.32 L486.48,954.96 L488.63,954.61 L490.79,954.25 L492.95,953.89 L495.11,953.54 L497.29,953.18 L499.46,952.82 L501.64,952.46 L503.82,952.10 L506.01,951.73 L508.20,951.37 L510.40,951.00 L512.60,950.63 L514.80,950.25 L517.00,949.88 L519.21,949.50 L521.42,949.11 L523.63,948.73 L525.84,948.33 L528.06,947.94 L530.28,947.54 L532.49,947.13 L534.71,946.73 L536.93,946.31 L539.16,945.89 L541.38,945.46 L543.60,945.03 L545.82,944.59 L548.05,944.15 L550.27,943.70 L552.49,943.24 L554.71,942.78 L556.93,942.30 L559.15,941.82 L561.37,941.33 L563.59,940.84 L565.81,940.33 L568.02,939.82 L570.23,939.30 L572.44,938.76 L574.65,938.22 L576.85,937.67 L579.05,937.11 L581.25,936.54 L583.44,935.96 L585.63,935.37 L587.82,934.77 L590.00,934.15 L592.18,933.53 L594.36,932.89 L596.53,932.24 L598.69,931.58 L600.85,930.91 L603.01,930.22 L605.16,929.52 L607.30,928.81 L609.44,928.09 L611.57,927.35 L613.70,926.60 L615.82,925.83 L617.93,925.05 L620.04,924.25 L622.14,923.44 L624.23,922.62 L626.31,921.78 L628.39,920.92 L630.46,920.05 L632.52,919.16 L634.57,918.26 L636.61,917.34 L638.65,916.40 L640.67,915.45 L642.69,914.48 L644.70,913.49 L646.70,912.48 L648.68,911.46 L650.66,910.41 L652.63,909.35 L654.59,908.27 L656.53,907.17 L658.47,906.06 L660.39,904.92 L662.31,903.77 L664.21,902.60 L666.10,901.41 L667.98,900.20 L669.85,898.98 L671.70,897.74 L673.55,896.48 L675.38,895.20 L677.20,893.91 L679.00,892.60 L680.79,891.27 L682.57,889.93 L684.34,888.57 L686.09,887.19 L687.83,885.79 L689.55,884.38 L691.26,882.96 L692.96,881.51 L694.64,880.05 L696.30,878.58 L697.96,877.09 L699.59,875.58 L701.21,874.05 L702.82,872.52 L704.41,870.96 L705.98,869.39 L707.54,867.80 L709.08,866.20 L710.60,864.59 L712.11,862.96 L713.60,861.31 L715.08,859.65 L716.53,857.98 L717.97,856.29 L719.40,854.58 L720.80,852.86 L722.19,851.13 L723.55,849.38 L724.90,847.62 L726.23,845.84 L727.55,844.06 L728.84,842.25 L730.11,840.44 L731.37,838.61 L732.61,836.76 L733.82,834.90 L735.02,833.03 L736.19,831.15 L737.35,829.25 L738.49,827.35 L739.61,825.43 L740.72,823.50 L741.80,821.55 L742.87,819.60 L743.92,817.63 L744.95,815.66 L745.96,813.67 L746.96,811.68 L747.94,809.67 L748.90,807.65 L749.85,805.63 L750.78,803.60 L751.70,801.55 L752.60,799.50 L753.48,797.45 L754.35,795.38 L755.21,793.30 L756.05,791.22 L756.87,789.13 L757.68,787.04 L758.48,784.94 L759.26,782.83 L760.03,780.72 L760.78,778.60 L761.53,776.47 L762.26,774.34 L762.97,772.21 L763.68,770.07 L764.37,767.92 L765.05,765.78 L765.72,763.63 L766.37,761.47 L767.02,759.31 L767.65,757.15 L768.27,754.99 L768.88,752.82 L769.48,750.65 L770.07,748.48 L770.66,746.31 L771.23,744.14 L771.79,741.96 L772.34,739.79 L772.88,737.61 L773.41,735.43 L773.93,733.24 L774.44,731.06 L774.95,728.87 L775.44,726.69 L775.93,724.50 L776.41,722.31 L776.87,720.11 L777.34,717.92 L777.79,715.73 L778.23,713.53 L778.67,711.33 L779.10,709.13 L779.52,706.93 L779.94,704.73 L780.34,702.53 L780.74,700.33 L781.14,698.12 L781.52,695.92 L781.90,693.71 L782.28,691.50 L782.64,689.29 L783.00,687.08 L783.36,684.87 L783.71,682.66 L784.05,680.45 L784.39,678.23 L784.72,676.02 L785.05,673.80 L785.37,671.59 L785.69,669.37 L786.00,667.15 L786.31,664.94 L786.61,662.72 L786.91,660.50 L787.20,658.28 L787.49,656.06 L787.78,653.84 L788.06,651.62 L788.34,649.40 L788.61,647.18 L788.89,644.96 L789.16,642.73 L789.42,640.51 L789.68,638.29 L789.94,636.07 L790.20,633.84 L790.46,631.62 L790.71,629.40 L790.96,627.18 L791.21,624.95 L791.46,622.73 L791.70,620.51 L791.95,618.29 L792.19,616.06 L792.43,613.84 L792.67,611.62 L792.91,609.40 L793.15,607.18 L793.39,604.96 L793.63,602.74 L793.87,600.52 L794.10,598.30 L794.34,596.08 L794.58,593.86 L794.82,591.64 L795.05,589.42 L795.29,587.21 L795.53,584.99 L795.77,582.78 L796.01,580.56 L796.26,578.35 L796.50,576.13 L796.75,573.92 L796.99,571.71 L797.24,569.50 L797.49,567.29 L797.75,565.08" fill="none" stroke="#0000ff" stroke-width="4.1" stroke-linecap="round" stroke-linejoin="round" stroke-dasharray="0 9.30" stroke-dashoffset="0"/>
<path d="M466.73,972.16 L469.11,971.90 L471.49,971.64 L473.87,971.38 L476.25,971.12 L478.63,970.87 L481.02,970.62 L483.41,970.37 L485.79,970.12 L488.18,969.87 L490.57,969.62 L492.96,969.37 L495.36,969.12 L497.75,968.87 L500.14,968.62 L502.54,968.37 L504.93,968.11 L507.33,967.86 L509.73,967.60 L512.12,967.35 L514.52,967.09 L516.92,966.82 L519.32,966.56 L521.72,966.29 L524.11,966.02 L526.51,965.75 L528.91,965.47 L531.31,965.19 L533.71,964.90 L536.11,964.62 L538.50,964.32 L540.90,964.02 L543.30,963.72 L545.70,963.41 L548.09,963.10 L550.49,962.78 L552.88,962.45 L555.27,962.12 L557.67,961.78 L560.06,961.43 L562.45,961.08 L564.84,960.72 L567.23,960.36 L569.62,959.98 L572.00,959.60 L574.39,959.21 L576.77,958.81 L579.15,958.40 L581.53,957.99 L583.91,957.56 L586.29,957.13 L588.66,956.68 L591.04,956.23 L593.41,955.76 L595.78,955.29 L598.14,954.81 L600.51,954.31 L602.87,953.80 L605.23,953.29 L607.59,952.76 L609.94,952.22 L612.30,951.66 L614.65,951.10 L616.99,950.52 L619.34,949.93 L621.68,949.33 L624.02,948.71 L626.36,948.08 L628.69,947.44 L631.02,946.78 L633.35,946.11 L635.67,945.42 L637.99,944.72 L640.31,944.01 L642.62,943.28 L644.93,942.53 L647.24,941.77 L649.54,940.99 L651.84,940.20 L654.13,939.39 L656.41,938.56 L658.69,937.71 L660.96,936.85 L663.23,935.96 L665.48,935.05 L667.72,934.13 L669.95,933.18 L672.17,932.20 L674.38,931.21 L676.57,930.19 L678.75,929.14 L680.92,928.08 L683.07,926.98 L685.20,925.86 L687.32,924.71 L689.41,923.54 L691.49,922.33 L693.55,921.10 L695.59,919.83 L697.60,918.54 L699.60,917.22 L701.57,915.86 L703.52,914.47 L705.44,913.05 L707.34,911.60 L709.22,910.12 L711.07,908.61 L712.90,907.06 L714.71,905.50 L716.49,903.90 L718.25,902.27 L719.99,900.62 L721.70,898.94 L723.39,897.24 L725.05,895.51 L726.69,893.75 L728.31,891.98 L729.90,890.18 L731.47,888.35 L733.02,886.51 L734.54,884.64 L736.04,882.75 L737.52,880.84 L738.97,878.92 L740.40,876.97 L741.81,875.00 L743.19,873.02 L744.54,871.02 L745.88,869.00 L747.19,866.97 L748.48,864.92 L749.74,862.86 L750.98,860.78 L752.20,858.69 L753.39,856.59 L754.56,854.47 L755.71,852.35 L756.83,850.21 L757.93,848.06 L759.01,845.90 L760.06,843.73 L761.09,841.55 L762.10,839.37 L763.08,837.17 L764.05,834.97 L764.99,832.76 L765.91,830.53 L766.80,828.31 L767.68,826.07 L768.54,823.82 L769.38,821.57 L770.20,819.31 L770.99,817.05 L771.77,814.77 L772.54,812.49 L773.28,810.20 L774.00,807.91 L774.71,805.61 L775.40,803.30 L776.08,800.99 L776.73,798.67 L777.37,796.35 L778.00,794.02 L778.61,791.68 L779.21,789.34 L779.79,787.00 L780.35,784.65 L780.90,782.30 L781.44,779.94 L781.97,777.58 L782.48,775.21 L782.98,772.84 L783.47,770.47 L783.94,768.09 L784.41,765.71 L784.86,763.32 L785.30,760.94 L785.73,758.55 L786.15,756.15 L786.57,753.76 L786.97,751.36 L787.36,748.96 L787.75,746.56 L788.12,744.16 L788.49,741.75 L788.85,739.35 L789.20,736.94 L789.55,734.53 L789.89,732.12 L790.22,729.71 L790.55,727.30 L790.87,724.89 L791.18,722.48 L791.50,720.07 L791.80,717.66 L792.11,715.25 L792.40,712.84 L792.70,710.43 L792.99,708.03 L793.28,705.62 L793.57,703.21 L793.85,700.81 L794.13,698.41 L794.42,696.01 L794.70,693.61 L794.97,691.21 L795.25,688.82 L795.52,686.42 L795.80,684.03 L796.07,681.64 L796.34,679.25 L796.60,676.86 L796.87,674.47 L797.13,672.08 L797.39,669.69 L797.65,667.30 L797.90,664.92 L798.16,662.53 L798.41,660.15 L798.66,657.76 L798.90,655.37 L799.14,652.99 L799.38,650.60 L799.62,648.22 L799.85,645.83 L800.08,643.45 L800.31,641.06 L800.54,638.68 L800.76,636.29 L800.97,633.90 L801.19,631.51 L801.40,629.12 L801.61,626.73 L801.81,624.34 L802.01,621.95 L802.21,619.56 L802.40,617.16 L802.59,614.76 L802.78,612.37 L802.96,609.97 L803.13,607.57 L803.31,605.16 L803.48,602.76 L803.64,600.35 L803.80,597.94 L803.96,595.53 L804.11,593.12 L804.25,590.71 L804.40,588.29 L804.53,585.87 L804.67,583.45 L804.80,581.02 L804.92,578.59 L805.04,576.16 L805.15,573.73 L805.26,571.29 L805.36,568.85 L805.46,566.41 L805.55,563.96 L805.64,561.51" fill="none" stroke="#0000ff" stroke-width="1.7" stroke-linecap="butt" stroke-linejoin="round" stroke-dasharray="15.25 15.22" stroke-dashoffset="-7.6" clip-path="url(#cr)"/>
<path d="M466.73,972.16 L469.11,971.90 L471.49,971.64 L473.87,971.38 L476.25,971.12 L478.63,970.87 L481.02,970.62 L483.41,970.37 L485.79,970.12 L488.18,969.87 L490.57,969.62 L492.96,969.37 L495.36,969.12 L497.75,968.87 L500.14,968.62 L502.54,968.37 L504.93,968.11 L507.33,967.86 L509.73,967.60 L512.12,967.35 L514.52,967.09 L516.92,966.82 L519.32,966.56 L521.72,966.29 L524.11,966.02 L526.51,965.75 L528.91,965.47 L531.31,965.19 L533.71,964.90 L536.11,964.62 L538.50,964.32 L540.90,964.02 L543.30,963.72 L545.70,963.41 L548.09,963.10 L550.49,962.78 L552.88,962.45 L555.27,962.12 L557.67,961.78 L560.06,961.43 L562.45,961.08 L564.84,960.72 L567.23,960.36 L569.62,959.98 L572.00,959.60 L574.39,959.21 L576.77,958.81 L579.15,958.40 L581.53,957.99 L583.91,957.56 L586.29,957.13 L588.66,956.68 L591.04,956.23 L593.41,955.76 L595.78,955.29 L598.14,954.81 L600.51,954.31 L602.87,953.80 L605.23,953.29 L607.59,952.76 L609.94,952.22 L612.30,951.66 L614.65,951.10 L616.99,950.52 L619.34,949.93 L621.68,949.33 L624.02,948.71 L626.36,948.08 L628.69,947.44 L631.02,946.78 L633.35,946.11 L635.67,945.42 L637.99,944.72 L640.31,944.01 L642.62,943.28 L644.93,942.53 L647.24,941.77 L649.54,940.99 L651.84,940.20 L654.13,939.39 L656.41,938.56 L658.69,937.71 L660.96,936.85 L663.23,935.96 L665.48,935.05 L667.72,934.13 L669.95,933.18 L672.17,932.20 L674.38,931.21 L676.57,930.19 L678.75,929.14 L680.92,928.08 L683.07,926.98 L685.20,925.86 L687.32,924.71 L689.41,923.54 L691.49,922.33 L693.55,921.10 L695.59,919.83 L697.60,918.54 L699.60,917.22 L701.57,915.86 L703.52,914.47 L705.44,913.05 L707.34,911.60 L709.22,910.12 L711.07,908.61 L712.90,907.06 L714.71,905.50 L716.49,903.90 L718.25,902.27 L719.99,900.62 L721.70,898.94 L723.39,897.24 L725.05,895.51 L726.69,893.75 L728.31,891.98 L729.90,890.18 L731.47,888.35 L733.02,886.51 L734.54,884.64 L736.04,882.75 L737.52,880.84 L738.97,878.92 L740.40,876.97 L741.81,875.00 L743.19,873.02 L744.54,871.02 L745.88,869.00 L747.19,866.97 L748.48,864.92 L749.74,862.86 L750.98,860.78 L752.20,858.69 L753.39,856.59 L754.56,854.47 L755.71,852.35 L756.83,850.21 L757.93,848.06 L759.01,845.90 L760.06,843.73 L761.09,841.55 L762.10,839.37 L763.08,837.17 L764.05,834.97 L764.99,832.76 L765.91,830.53 L766.80,828.31 L767.68,826.07 L768.54,823.82 L769.38,821.57 L770.20,819.31 L770.99,817.05 L771.77,814.77 L772.54,812.49 L773.28,810.20 L774.00,807.91 L774.71,805.61 L775.40,803.30 L776.08,800.99 L776.73,798.67 L777.37,796.35 L778.00,794.02 L778.61,791.68 L779.21,789.34 L779.79,787.00 L780.35,784.65 L780.90,782.30 L781.44,779.94 L781.97,777.58 L782.48,775.21 L782.98,772.84 L783.47,770.47 L783.94,768.09 L784.41,765.71 L784.86,763.32 L785.30,760.94 L785.73,758.55 L786.15,756.15 L786.57,753.76 L786.97,751.36 L787.36,748.96 L787.75,746.56 L788.12,744.16 L788.49,741.75 L788.85,739.35 L789.20,736.94 L789.55,734.53 L789.89,732.12 L790.22,729.71 L790.55,727.30 L790.87,724.89 L791.18,722.48 L791.50,720.07 L791.80,717.66 L792.11,715.25 L792.40,712.84 L792.70,710.43 L792.99,708.03 L793.28,705.62 L793.57,703.21 L793.85,700.81 L794.13,698.41 L794.42,696.01 L794.70,693.61 L794.97,691.21 L795.25,688.82 L795.52,686.42 L795.80,684.03 L796.07,681.64 L796.34,679.25 L796.60,676.86 L796.87,674.47 L797.13,672.08 L797.39,669.69 L797.65,667.30 L797.90,664.92 L798.16,662.53 L798.41,660.15 L798.66,657.76 L798.90,655.37 L799.14,652.99 L799.38,650.60 L799.62,648.22 L799.85,645.83 L800.08,643.45 L800.31,641.06 L800.54,638.68 L800.76,636.29 L800.97,633.90 L801.19,631.51 L801.40,629.12 L801.61,626.73 L801.81,624.34 L802.01,621.95 L802.21,619.56 L802.40,617.16 L802.59,614.76 L802.78,612.37 L802.96,609.97 L803.13,607.57 L803.31,605.16 L803.48,602.76 L803.64,600.35 L803.80,597.94 L803.96,595.53 L804.11,593.12 L804.25,590.71 L804.40,588.29 L804.53,585.87 L804.67,583.45 L804.80,581.02 L804.92,578.59 L805.04,576.16 L805.15,573.73 L805.26,571.29 L805.36,568.85 L805.46,566.41 L805.55,563.96 L805.64,561.51" fill="none" stroke="#0000ff" stroke-width="4.1" stroke-linecap="round" stroke-linejoin="round" stroke-dasharray="0 30.47" stroke-dashoffset="0"/>
<path d="M471.62,990.11 L473.97,990.01 L476.33,989.91 L478.68,989.81 L481.04,989.70 L483.39,989.60 L485.74,989.50 L488.09,989.40 L490.43,989.29 L492.78,989.19 L495.13,989.08 L497.47,988.98 L499.81,988.87 L502.15,988.76 L504.49,988.66 L506.83,988.55 L509.17,988.43 L511.50,988.32 L513.84,988.21 L516.17,988.09 L518.51,987.97 L520.84,987.85 L523.18,987.73 L525.51,987.61 L527.84,987.48 L530.17,987.36 L532.50,987.23 L534.83,987.10 L537.16,986.96 L539.49,986.83 L541.82,986.69 L544.15,986.55 L546.48,986.40 L548.81,986.26 L551.14,986.11 L553.47,985.95 L555.80,985.80 L558.13,985.64 L560.46,985.48 L562.79,985.31 L565.12,985.14 L567.45,984.97 L569.78,984.80 L572.12,984.62 L574.45,984.44 L576.78,984.25 L579.12,984.06 L581.45,983.87 L583.78,983.67 L586.12,983.47 L588.46,983.26 L590.80,983.05 L593.14,982.83 L595.48,982.62 L597.82,982.39 L600.16,982.16 L602.50,981.93 L604.85,981.69 L607.19,981.44 L609.53,981.19 L611.88,980.92 L614.22,980.65 L616.56,980.37 L618.91,980.08 L621.25,979.78 L623.59,979.47 L625.93,979.15 L628.26,978.82 L630.60,978.47 L632.93,978.11 L635.26,977.73 L637.59,977.34 L639.92,976.94 L642.24,976.51 L644.56,976.08 L646.87,975.62 L649.18,975.15 L651.49,974.66 L653.79,974.15 L656.09,973.62 L658.39,973.07 L660.68,972.50 L662.96,971.91 L665.24,971.29 L667.51,970.65 L669.78,970.00 L672.04,969.31 L674.29,968.61 L676.54,967.88 L678.77,967.12 L681.00,966.34 L683.21,965.54 L685.41,964.70 L687.60,963.85 L689.78,962.97 L691.95,962.06 L694.10,961.12 L696.23,960.16 L698.35,959.16 L700.46,958.15 L702.54,957.10 L704.61,956.02 L706.66,954.91 L708.70,953.78 L710.71,952.61 L712.70,951.42 L714.67,950.19 L716.62,948.93 L718.55,947.64 L720.45,946.32 L722.33,944.97 L724.19,943.58 L726.02,942.16 L727.82,940.71 L729.60,939.23 L731.35,937.71 L733.08,936.17 L734.78,934.59 L736.45,932.98 L738.10,931.35 L739.72,929.69 L741.31,928.00 L742.88,926.28 L744.41,924.54 L745.92,922.77 L747.40,920.97 L748.86,919.16 L750.28,917.31 L751.68,915.45 L753.04,913.56 L754.38,911.65 L755.69,909.72 L756.97,907.77 L758.22,905.79 L759.43,903.80 L760.62,901.79 L761.78,899.76 L762.91,897.71 L764.01,895.65 L765.08,893.57 L766.12,891.48 L767.14,889.36 L768.13,887.24 L769.09,885.10 L770.03,882.95 L770.94,880.78 L771.83,878.60 L772.70,876.41 L773.54,874.21 L774.36,872.00 L775.16,869.78 L775.94,867.55 L776.69,865.31 L777.43,863.06 L778.15,860.81 L778.84,858.54 L779.52,856.28 L780.19,854.00 L780.83,851.72 L781.46,849.44 L782.07,847.15 L782.67,844.86 L783.25,842.57 L783.82,840.27 L784.38,837.98 L784.92,835.68 L785.45,833.38 L785.97,831.08 L786.48,828.78 L786.97,826.47 L787.45,824.17 L787.92,821.86 L788.38,819.56 L788.83,817.25 L789.27,814.94 L789.70,812.63 L790.11,810.32 L790.52,808.01 L790.92,805.70 L791.31,803.39 L791.69,801.07 L792.06,798.76 L792.42,796.44 L792.78,794.13 L793.12,791.81 L793.46,789.49 L793.79,787.17 L794.11,784.85 L794.43,782.53 L794.74,780.21 L795.04,777.89 L795.34,775.57 L795.63,773.25 L795.92,770.92 L796.20,768.60 L796.47,766.28 L796.74,763.95 L797.01,761.63 L797.27,759.30 L797.52,756.98 L797.77,754.65 L798.02,752.32 L798.27,750.00 L798.51,747.67 L798.75,745.34 L798.98,743.01 L799.21,740.69 L799.44,738.36 L799.67,736.03 L799.89,733.70 L800.10,731.37 L800.32,729.04 L800.53,726.71 L800.74,724.38 L800.95,722.05 L801.15,719.71 L801.35,717.38 L801.55,715.05 L801.74,712.72 L801.93,710.38 L802.12,708.05 L802.31,705.72 L802.49,703.38 L802.67,701.05 L802.85,698.71 L803.03,696.38 L803.21,694.04 L803.38,691.71 L803.55,689.37 L803.72,687.03 L803.88,684.70 L804.05,682.36 L804.21,680.02 L804.37,677.68 L804.53,675.35 L804.69,673.01 L804.84,670.67 L805.00,668.33 L805.15,665.99 L805.30,663.65 L805.45,661.31 L805.60,658.97 L805.75,656.63 L805.89,654.28 L806.04,651.94 L806.18,649.60 L806.33,647.26 L806.47,644.92 L806.61,642.57 L806.75,640.23 L806.89,637.88 L807.03,635.54 L807.17,633.20 L807.30,630.85 L807.44,628.51 L807.58,626.16 L807.71,623.81 L807.85,621.47 L807.98,619.12 L808.12,616.78" fill="none" stroke="#ff0000" stroke-width="1.7" stroke-linecap="butt" stroke-linejoin="round" stroke-dasharray="15.2 15.2" stroke-dashoffset="-3.6" clip-path="url(#cr)"/>
<path d="M471.30,993.44 L473.66,993.38 L476.03,993.33 L478.39,993.27 L480.75,993.22 L483.12,993.16 L485.48,993.10 L487.85,993.04 L490.21,992.98 L492.58,992.92 L494.94,992.85 L497.30,992.79 L499.67,992.72 L502.03,992.65 L504.40,992.58 L506.76,992.50 L509.13,992.43 L511.49,992.35 L513.86,992.27 L516.22,992.18 L518.59,992.10 L520.95,992.01 L523.32,991.91 L525.68,991.82 L528.05,991.72 L530.41,991.62 L532.77,991.51 L535.14,991.41 L537.50,991.29 L539.87,991.18 L542.23,991.06 L544.59,990.94 L546.95,990.81 L549.31,990.68 L551.68,990.54 L554.04,990.40 L556.40,990.26 L558.76,990.11 L561.12,989.96 L563.48,989.80 L565.84,989.64 L568.19,989.47 L570.55,989.30 L572.91,989.12 L575.27,988.94 L577.62,988.75 L579.98,988.56 L582.33,988.36 L584.69,988.15 L587.04,987.94 L589.40,987.73 L591.75,987.50 L594.10,987.27 L596.45,987.04 L598.80,986.80 L601.15,986.55 L603.50,986.30 L605.85,986.03 L608.19,985.77 L610.54,985.49 L612.89,985.21 L615.23,984.92 L617.57,984.63 L619.92,984.32 L622.26,984.01 L624.60,983.70 L626.94,983.37 L629.28,983.03 L631.61,982.68 L633.95,982.33 L636.28,981.96 L638.61,981.57 L640.94,981.18 L643.27,980.77 L645.59,980.35 L647.91,979.91 L650.23,979.45 L652.55,978.98 L654.86,978.50 L657.17,977.99 L659.48,977.46 L661.78,976.92 L664.08,976.36 L666.38,975.77 L668.67,975.16 L670.96,974.54 L673.25,973.88 L675.53,973.21 L677.80,972.51 L680.07,971.78 L682.33,971.03 L684.59,970.25 L686.83,969.45 L689.07,968.62 L691.29,967.76 L693.50,966.87 L695.70,965.95 L697.88,965.00 L700.05,964.02 L702.20,963.01 L704.33,961.96 L706.44,960.89 L708.53,959.78 L710.60,958.63 L712.64,957.45 L714.67,956.23 L716.66,954.98 L718.63,953.69 L720.58,952.37 L722.49,951.00 L724.38,949.60 L726.23,948.16 L728.06,946.67 L729.85,945.15 L731.61,943.60 L733.35,942.00 L735.05,940.38 L736.72,938.72 L738.36,937.02 L739.97,935.30 L741.55,933.55 L743.10,931.76 L744.62,929.95 L746.11,928.12 L747.57,926.26 L749.00,924.37 L750.40,922.46 L751.78,920.53 L753.12,918.58 L754.43,916.61 L755.72,914.62 L756.97,912.61 L758.20,910.59 L759.40,908.55 L760.57,906.50 L761.71,904.43 L762.82,902.35 L763.91,900.26 L764.96,898.16 L765.99,896.05 L767.00,893.92 L767.98,891.79 L768.93,889.64 L769.86,887.48 L770.77,885.31 L771.65,883.14 L772.51,880.95 L773.35,878.75 L774.16,876.54 L774.95,874.33 L775.72,872.10 L776.47,869.87 L777.20,867.63 L777.91,865.38 L778.60,863.12 L779.27,860.86 L779.93,858.59 L780.56,856.31 L781.18,854.02 L781.78,851.73 L782.37,849.43 L782.93,847.13 L783.49,844.82 L784.02,842.51 L784.55,840.19 L785.06,837.87 L785.55,835.54 L786.03,833.21 L786.50,830.88 L786.96,828.54 L787.41,826.20 L787.84,823.86 L788.27,821.51 L788.68,819.16 L789.09,816.81 L789.48,814.46 L789.87,812.10 L790.24,809.75 L790.61,807.39 L790.98,805.03 L791.33,802.68 L791.68,800.32 L792.03,797.96 L792.36,795.60 L792.70,793.25 L793.03,790.89 L793.35,788.54 L793.67,786.18 L793.99,783.83 L794.30,781.48 L794.61,779.13 L794.92,776.78 L795.22,774.43 L795.51,772.09 L795.81,769.74 L796.09,767.39 L796.38,765.05 L796.66,762.70 L796.94,760.36 L797.21,758.01 L797.48,755.67 L797.75,753.33 L798.01,750.99 L798.27,748.64 L798.53,746.30 L798.78,743.96 L799.03,741.62 L799.27,739.28 L799.51,736.94 L799.75,734.60 L799.99,732.26 L800.22,729.91 L800.45,727.57 L800.67,725.23 L800.89,722.89 L801.11,720.55 L801.33,718.21 L801.54,715.87 L801.75,713.53 L801.95,711.18 L802.15,708.84 L802.35,706.50 L802.55,704.15 L802.74,701.81 L802.93,699.46 L803.12,697.12 L803.31,694.77 L803.49,692.42 L803.67,690.08 L803.84,687.73 L804.02,685.38 L804.19,683.03 L804.35,680.68 L804.52,678.32 L804.68,675.97 L804.84,673.62 L805.00,671.26 L805.15,668.90 L805.30,666.55 L805.45,664.19 L805.60,661.83 L805.74,659.46 L805.89,657.10 L806.03,654.74 L806.16,652.37 L806.30,650.00 L806.43,647.63 L806.56,645.26 L806.69,642.89 L806.82,640.51 L806.94,638.14 L807.06,635.76 L807.18,633.38 L807.30,631.00 L807.41,628.61 L807.53,626.23 L807.64,623.84 L807.75,621.45 L807.85,619.06 L807.96,616.66" fill="none" stroke="#ff0000" stroke-width="1.7" stroke-linecap="butt" stroke-linejoin="round" stroke-dasharray="9.30 9.30" stroke-dashoffset="-4.65" clip-path="url(#cr)"/>
<path d="M471.30,993.44 L473.66,993.38 L476.03,993.33 L478.39,993.27 L480.75,993.22 L483.12,993.16 L485.48,993.10 L487.85,993.04 L490.21,992.98 L492.58,992.92 L494.94,992.85 L497.30,992.79 L499.67,992.72 L502.03,992.65 L504.40,992.58 L506.76,992.50 L509.13,992.43 L511.49,992.35 L513.86,992.27 L516.22,992.18 L518.59,992.10 L520.95,992.01 L523.32,991.91 L525.68,991.82 L528.05,991.72 L530.41,991.62 L532.77,991.51 L535.14,991.41 L537.50,991.29 L539.87,991.18 L542.23,991.06 L544.59,990.94 L546.95,990.81 L549.31,990.68 L551.68,990.54 L554.04,990.40 L556.40,990.26 L558.76,990.11 L561.12,989.96 L563.48,989.80 L565.84,989.64 L568.19,989.47 L570.55,989.30 L572.91,989.12 L575.27,988.94 L577.62,988.75 L579.98,988.56 L582.33,988.36 L584.69,988.15 L587.04,987.94 L589.40,987.73 L591.75,987.50 L594.10,987.27 L596.45,987.04 L598.80,986.80 L601.15,986.55 L603.50,986.30 L605.85,986.03 L608.19,985.77 L610.54,985.49 L612.89,985.21 L615.23,984.92 L617.57,984.63 L619.92,984.32 L622.26,984.01 L624.60,983.70 L626.94,983.37 L629.28,983.03 L631.61,982.68 L633.95,982.33 L636.28,981.96 L638.61,981.57 L640.94,981.18 L643.27,980.77 L645.59,980.35 L647.91,979.91 L650.23,979.45 L652.55,978.98 L654.86,978.50 L657.17,977.99 L659.48,977.46 L661.78,976.92 L664.08,976.36 L666.38,975.77 L668.67,975.16 L670.96,974.54 L673.25,973.88 L675.53,973.21 L677.80,972.51 L680.07,971.78 L682.33,971.03 L684.59,970.25 L686.83,969.45 L689.07,968.62 L691.29,967.76 L693.50,966.87 L695.70,965.95 L697.88,965.00 L700.05,964.02 L702.20,963.01 L704.33,961.96 L706.44,960.89 L708.53,959.78 L710.60,958.63 L712.64,957.45 L714.67,956.23 L716.66,954.98 L718.63,953.69 L720.58,952.37 L722.49,951.00 L724.38,949.60 L726.23,948.16 L728.06,946.67 L729.85,945.15 L731.61,943.60 L733.35,942.00 L735.05,940.38 L736.72,938.72 L738.36,937.02 L739.97,935.30 L741.55,933.55 L743.10,931.76 L744.62,929.95 L746.11,928.12 L747.57,926.26 L749.00,924.37 L750.40,922.46 L751.78,920.53 L753.12,918.58 L754.43,916.61 L755.72,914.62 L756.97,912.61 L758.20,910.59 L759.40,908.55 L760.57,906.50 L761.71,904.43 L762.82,902.35 L763.91,900.26 L764.96,898.16 L765.99,896.05 L767.00,893.92 L767.98,891.79 L768.93,889.64 L769.86,887.48 L770.77,885.31 L771.65,883.14 L772.51,880.95 L773.35,878.75 L774.16,876.54 L774.95,874.33 L775.72,872.10 L776.47,869.87 L777.20,867.63 L777.91,865.38 L778.60,863.12 L779.27,860.86 L779.93,858.59 L780.56,856.31 L781.18,854.02 L781.78,851.73 L782.37,849.43 L782.93,847.13 L783.49,844.82 L784.02,842.51 L784.55,840.19 L785.06,837.87 L785.55,835.54 L786.03,833.21 L786.50,830.88 L786.96,828.54 L787.41,826.20 L787.84,823.86 L788.27,821.51 L788.68,819.16 L789.09,816.81 L789.48,814.46 L789.87,812.10 L790.24,809.75 L790.61,807.39 L790.98,805.03 L791.33,802.68 L791.68,800.32 L792.03,797.96 L792.36,795.60 L792.70,793.25 L793.03,790.89 L793.35,788.54 L793.67,786.18 L793.99,783.83 L794.30,781.48 L794.61,779.13 L794.92,776.78 L795.22,774.43 L795.51,772.09 L795.81,769.74 L796.09,767.39 L796.38,765.05 L796.66,762.70 L796.94,760.36 L797.21,758.01 L797.48,755.67 L797.75,753.33 L798.01,750.99 L798.27,748.64 L798.53,746.30 L798.78,743.96 L799.03,741.62 L799.27,739.28 L799.51,736.94 L799.75,734.60 L799.99,732.26 L800.22,729.91 L800.45,727.57 L800.67,725.23 L800.89,722.89 L801.11,720.55 L801.33,718.21 L801.54,715.87 L801.75,713.53 L801.95,711.18 L802.15,708.84 L802.35,706.50 L802.55,704.15 L802.74,701.81 L802.93,699.46 L803.12,697.12 L803.31,694.77 L803.49,692.42 L803.67,690.08 L803.84,687.73 L804.02,685.38 L804.19,683.03 L804.35,680.68 L804.52,678.32 L804.68,675.97 L804.84,673.62 L805.00,671.26 L805.15,668.90 L805.30,666.55 L805.45,664.19 L805.60,661.83 L805.74,659.46 L805.89,657.10 L806.03,654.74 L806.16,652.37 L806.30,650.00 L806.43,647.63 L806.56,645.26 L806.69,642.89 L806.82,640.51 L806.94,638.14 L807.06,635.76 L807.18,633.38 L807.30,631.00 L807.41,628.61 L807.53,626.23 L807.64,623.84 L807.75,621.45 L807.85,619.06 L807.96,616.66" fill="none" stroke="#ff0000" stroke-width="3.9" stroke-linecap="round" stroke-linejoin="round" stroke-dasharray="0 18.60" stroke-dashoffset="0"/>
<path d="M471.76,985.57 L474.11,985.42 L476.46,985.29 L478.81,985.15 L481.15,985.03 L483.50,984.90 L485.84,984.79 L488.19,984.68 L490.53,984.57 L492.87,984.46 L495.21,984.36 L497.55,984.27 L499.89,984.17 L502.23,984.08 L504.56,983.99 L506.90,983.91 L509.23,983.82 L511.57,983.74 L513.90,983.66 L516.23,983.58 L518.56,983.50 L520.90,983.42 L523.23,983.35 L525.56,983.27 L527.88,983.19 L530.21,983.11 L532.54,983.03 L534.87,982.95 L537.19,982.87 L539.52,982.78 L541.84,982.70 L544.17,982.61 L546.49,982.52 L548.82,982.42 L551.14,982.33 L553.46,982.23 L555.78,982.12 L558.10,982.02 L560.42,981.90 L562.75,981.79 L565.07,981.66 L567.39,981.54 L569.70,981.40 L572.02,981.27 L574.34,981.12 L576.66,980.97 L578.98,980.82 L581.30,980.65 L583.62,980.48 L585.93,980.30 L588.25,980.12 L590.57,979.92 L592.89,979.72 L595.20,979.51 L597.52,979.29 L599.84,979.06 L602.15,978.82 L604.47,978.57 L606.79,978.32 L609.10,978.05 L611.42,977.77 L613.74,977.48 L616.05,977.18 L618.37,976.87 L620.69,976.54 L623.00,976.21 L625.32,975.86 L627.64,975.50 L629.96,975.12 L632.27,974.74 L634.59,974.34 L636.91,973.92 L639.23,973.49 L641.55,973.05 L643.87,972.60 L646.18,972.12 L648.50,971.64 L650.81,971.13 L653.13,970.61 L655.43,970.08 L657.74,969.52 L660.04,968.95 L662.33,968.36 L664.62,967.75 L666.91,967.12 L669.18,966.48 L671.45,965.81 L673.71,965.12 L675.96,964.42 L678.21,963.69 L680.44,962.94 L682.66,962.16 L684.87,961.37 L687.07,960.55 L689.26,959.71 L691.43,958.85 L693.59,957.96 L695.73,957.04 L697.86,956.11 L699.98,955.14 L702.07,954.15 L704.16,953.14 L706.22,952.09 L708.27,951.02 L710.29,949.93 L712.30,948.80 L714.29,947.65 L716.26,946.46 L718.20,945.25 L720.13,944.01 L722.03,942.74 L723.91,941.43 L725.77,940.10 L727.60,938.74 L729.40,937.34 L731.19,935.91 L732.94,934.45 L734.67,932.95 L736.37,931.42 L738.04,929.86 L739.69,928.26 L741.31,926.63 L742.89,924.96 L744.45,923.26 L745.98,921.53 L747.48,919.77 L748.94,917.98 L750.38,916.16 L751.79,914.31 L753.17,912.44 L754.52,910.54 L755.84,908.61 L757.12,906.66 L758.38,904.69 L759.61,902.70 L760.80,900.69 L761.97,898.65 L763.10,896.60 L764.21,894.53 L765.28,892.44 L766.32,890.34 L767.34,888.22 L768.32,886.09 L769.28,883.94 L770.22,881.78 L771.12,879.61 L772.00,877.42 L772.86,875.22 L773.70,873.02 L774.51,870.80 L775.29,868.58 L776.06,866.34 L776.81,864.10 L777.53,861.85 L778.24,859.60 L778.92,857.34 L779.59,855.08 L780.25,852.81 L780.88,850.54 L781.50,848.27 L782.10,845.99 L782.69,843.72 L783.26,841.44 L783.82,839.16 L784.37,836.88 L784.90,834.60 L785.42,832.32 L785.93,830.03 L786.42,827.75 L786.91,825.46 L787.38,823.18 L787.84,820.89 L788.29,818.60 L788.72,816.31 L789.15,814.01 L789.57,811.72 L789.98,809.43 L790.38,807.13 L790.78,804.84 L791.16,802.54 L791.54,800.24 L791.91,797.94 L792.27,795.64 L792.63,793.34 L792.98,791.04 L793.32,788.74 L793.66,786.43 L793.99,784.13 L794.32,781.82 L794.64,779.52 L794.95,777.21 L795.26,774.90 L795.57,772.59 L795.86,770.28 L796.16,767.97 L796.45,765.66 L796.73,763.35 L797.01,761.04 L797.28,758.72 L797.55,756.41 L797.82,754.09 L798.07,751.78 L798.33,749.46 L798.58,747.15 L798.83,744.83 L799.07,742.51 L799.31,740.19 L799.54,737.87 L799.77,735.55 L799.99,733.23 L800.22,730.91 L800.43,728.59 L800.65,726.27 L800.86,723.95 L801.07,721.62 L801.27,719.30 L801.47,716.98 L801.67,714.65 L801.86,712.33 L802.05,710.00 L802.24,707.68 L802.42,705.35 L802.60,703.02 L802.78,700.70 L802.96,698.37 L803.13,696.04 L803.30,693.71 L803.47,691.39 L803.64,689.06 L803.80,686.73 L803.97,684.40 L804.13,682.07 L804.28,679.74 L804.44,677.41 L804.59,675.08 L804.75,672.75 L804.90,670.42 L805.05,668.09 L805.19,665.76 L805.34,663.43 L805.48,661.09 L805.63,658.76 L805.77,656.43 L805.91,654.10 L806.05,651.77 L806.19,649.43 L806.33,647.10 L806.47,644.77 L806.60,642.44 L806.74,640.11 L806.88,637.77 L807.01,635.44 L807.15,633.11 L807.28,630.78 L807.42,628.44 L807.55,626.11 L807.69,623.78 L807.82,621.45 L807.96,619.11 L808.09,616.78" fill="none" stroke="#000" stroke-width="1.7" stroke-linecap="butt" stroke-linejoin="round" clip-path="url(#cr)"/>
</g>
<rect x="58.8" y="561.3" width="354.59999999999997" height="471.5" fill="none" stroke="#2a2a2a" stroke-width="1.6"/>
<path d="M80.96,1032.8v-6M80.96,561.3v6M103.12,1032.8v-6M103.12,561.3v6M125.29,1032.8v-6M125.29,561.3v6M147.45,1032.8v-12M147.45,561.3v12M169.61,1032.8v-6M169.61,561.3v6M191.77,1032.8v-6M191.77,561.3v6M213.94,1032.8v-6M213.94,561.3v6M236.10,1032.8v-12M236.10,561.3v12M258.26,1032.8v-6M258.26,561.3v6M280.42,1032.8v-6M280.42,561.3v6M302.59,1032.8v-6M302.59,561.3v6M324.75,1032.8v-12M324.75,561.3v12M346.91,1032.8v-6M346.91,561.3v6M369.07,1032.8v-6M369.07,561.3v6M391.24,1032.8v-6M391.24,561.3v6M58.8,1009.23h6M413.4,1009.23h-6M58.8,985.65h12M413.4,985.65h-12M58.8,962.07h6M413.4,962.07h-6M58.8,938.50h6M413.4,938.50h-6M58.8,914.92h6M413.4,914.92h-6M58.8,891.35h6M413.4,891.35h-6M58.8,867.77h12M413.4,867.77h-12M58.8,844.20h6M413.4,844.20h-6M58.8,820.62h6M413.4,820.62h-6M58.8,797.05h6M413.4,797.05h-6M58.8,773.47h6M413.4,773.47h-6M58.8,749.90h12M413.4,749.90h-12M58.8,726.32h6M413.4,726.32h-6M58.8,702.75h6M413.4,702.75h-6M58.8,679.17h6M413.4,679.17h-6M58.8,655.60h6M413.4,655.60h-6M58.8,632.02h12M413.4,632.02h-12M58.8,608.45h6M413.4,608.45h-6M58.8,584.88h6M413.4,584.88h-6" fill="none" stroke="#2a2a2a" stroke-width="1.4"/>
<rect x="472.2" y="561.3" width="353.59999999999997" height="471.5" fill="none" stroke="#2a2a2a" stroke-width="1.6"/>
<path d="M494.30,1032.8v-6M494.30,561.3v6M516.40,1032.8v-6M516.40,561.3v6M538.50,1032.8v-6M538.50,561.3v6M560.60,1032.8v-12M560.60,561.3v12M582.70,1032.8v-6M582.70,561.3v6M604.80,1032.8v-6M604.80,561.3v6M626.90,1032.8v-6M626.90,561.3v6M649.00,1032.8v-12M649.00,561.3v12M671.10,1032.8v-6M671.10,561.3v6M693.20,1032.8v-6M693.20,561.3v6M715.30,1032.8v-6M715.30,561.3v6M737.40,1032.8v-12M737.40,561.3v12M759.50,1032.8v-6M759.50,561.3v6M781.60,1032.8v-6M781.60,561.3v6M803.70,1032.8v-6M803.70,561.3v6M472.2,1009.23h6M825.8,1009.23h-6M472.2,985.65h12M825.8,985.65h-12M472.2,962.07h6M825.8,962.07h-6M472.2,938.50h6M825.8,938.50h-6M472.2,914.92h6M825.8,914.92h-6M472.2,891.35h6M825.8,891.35h-6M472.2,867.77h12M825.8,867.77h-12M472.2,844.20h6M825.8,844.20h-6M472.2,820.62h6M825.8,820.62h-6M472.2,797.05h6M825.8,797.05h-6M472.2,773.47h6M825.8,773.47h-6M472.2,749.90h12M825.8,749.90h-12M472.2,726.32h6M825.8,726.32h-6M472.2,702.75h6M825.8,702.75h-6M472.2,679.17h6M825.8,679.17h-6M472.2,655.60h6M825.8,655.60h-6M472.2,632.02h12M825.8,632.02h-12M472.2,608.45h6M825.8,608.45h-6M472.2,584.88h6M825.8,584.88h-6" fill="none" stroke="#2a2a2a" stroke-width="1.4"/>
<text transform="translate(47.0,639.9) scale(1,1.08)" font-size="23" text-anchor="end">1.5</text>
<text transform="translate(47.0,757.8) scale(1,1.08)" font-size="23" text-anchor="end">1</text>
<text transform="translate(47.0,875.7) scale(1,1.08)" font-size="23" text-anchor="end">0.5</text>
<text transform="translate(47.0,993.5) scale(1,1.08)" font-size="23" text-anchor="end">0</text>
<text transform="translate(58.8,1064.5) scale(1,1.08)" font-size="23" text-anchor="middle">0.6</text>
<text transform="translate(147.4,1064.5) scale(1,1.08)" font-size="23" text-anchor="middle">0.7</text>
<text transform="translate(236.1,1064.5) scale(1,1.08)" font-size="23" text-anchor="middle">0.8</text>
<text transform="translate(324.8,1064.5) scale(1,1.08)" font-size="23" text-anchor="middle">0.9</text>
<text transform="translate(413.4,1064.5) scale(1,1.08)" font-size="23" text-anchor="middle">1</text>
<text transform="translate(460.4,639.9) scale(1,1.08)" font-size="23" text-anchor="end">1.5</text>
<text transform="translate(460.4,757.8) scale(1,1.08)" font-size="23" text-anchor="end">1</text>
<text transform="translate(460.4,875.7) scale(1,1.08)" font-size="23" text-anchor="end">0.5</text>
<text transform="translate(460.4,993.5) scale(1,1.08)" font-size="23" text-anchor="end">0</text>
<text transform="translate(472.2,1064.5) scale(1,1.08)" font-size="23" text-anchor="middle">0.6</text>
<text transform="translate(560.6,1064.5) scale(1,1.08)" font-size="23" text-anchor="middle">0.7</text>
<text transform="translate(649.0,1064.5) scale(1,1.08)" font-size="23" text-anchor="middle">0.8</text>
<text transform="translate(737.4,1064.5) scale(1,1.08)" font-size="23" text-anchor="middle">0.9</text>
<text transform="translate(825.8,1064.5) scale(1,1.08)" font-size="23" text-anchor="middle">1</text>
<g id="text">
<text x="104.0" y="629.8" font-size="29" text-anchor="start">(</text>
<text x="120.6" y="629.8" font-size="29" text-anchor="start">a</text>
<text x="133.8" y="614.9" font-size="18.5" text-anchor="start">2</text>
<text x="134.0" y="639.6" font-size="20.5" text-anchor="start">S</text>
<text x="150.8" y="629.8" font-size="29" text-anchor="start">c</text>
<text x="164.4" y="614.6" font-size="20" text-anchor="start">(2)</text>
<text x="165.0" y="639.6" font-size="20" text-anchor="start">2,q</text>
<circle cx="209.3" cy="619.9" r="9.4" fill="none" stroke="#000" stroke-width="1.7"/>
<path d="M204.5,615.1l9.6,9.6M204.5,624.7l9.6,-9.6" stroke="#000" stroke-width="1.5" fill="none"/>
<text x="228.4" y="629.8" font-size="29" text-anchor="start">f</text>
<text x="242.5" y="629.8" font-size="29" text-anchor="start">)</text>
<path d="M261.4,630.2L268.2,610.2" stroke="#000" stroke-width="2.1" fill="none"/>
<text x="275.6" y="629.8" font-size="29" text-anchor="start">f</text>
<text x="147.8" y="682.2" font-size="23" text-anchor="start">xf =</text>
<text x="192.6" y="682.2" font-size="23" text-anchor="start">(1-x)</text>
<text x="239.4" y="670.4" font-size="15" text-anchor="start">3</text>
<circle cx="96.3" cy="730.6" r="2.20" fill="#0000ff"/>
<circle cx="110.1" cy="730.6" r="2.20" fill="#0000ff"/>
<circle cx="123.9" cy="730.6" r="2.20" fill="#0000ff"/>
<circle cx="137.9" cy="730.6" r="2.20" fill="#0000ff"/>
<path d="M94.4,759.2H109.4M125.2,759.2H140.3" stroke="#0000ff" stroke-width="2.0" fill="none"/>
<path d="M94.4,787.4H103.5M112.6,787.4H122.2M131.4,787.4H140.3" stroke="#ff0000" stroke-width="2.0" fill="none"/>
<circle cx="107.9" cy="787.5" r="2.10" fill="#ff0000"/>
<circle cx="126.9" cy="787.5" r="2.10" fill="#ff0000"/>
<path d="M94.4,815.8H103.5M112.6,815.8H122.2M131.4,815.8H140.3" stroke="#ff0000" stroke-width="2.0" fill="none"/>
<path d="M94.4,853.6H140.3" stroke="#000" stroke-width="2.1" fill="none"/>
<text x="156.0" y="737.7" font-size="20" text-anchor="start">1</text>
<text x="156.0" y="766.1" font-size="20" text-anchor="start">2</text>
<text x="156.0" y="794.5" font-size="20" text-anchor="start">3</text>
<text x="156.0" y="822.5" font-size="20" text-anchor="start">4</text>
<text x="177.0" y="822.3" font-size="20" text-anchor="start">D</text>
<text x="191.0" y="828.6" font-size="14.5" text-anchor="start">k</text>
<text x="202.6" y="822.3" font-size="20" text-anchor="start">terms</text>
<text x="156.3" y="860.6" font-size="20" text-anchor="start">full</text>
<text transform="translate(236.3,1010.6) scale(1.24,1.09)" font-size="23">α</text>
<text x="251.2" y="1019.0" font-size="17" text-anchor="start">S</text>
<text transform="translate(265.3,1010.6) scale(1.06,1.08)" font-size="23" text-anchor="start">=</text>
<text transform="translate(285.5,1010.6) scale(1,1.08)" font-size="23" text-anchor="start">0.2,</text>
<text transform="translate(332.6,1010.6) scale(1,1.08)" font-size="23" text-anchor="start">N</text>
<text x="350.0" y="1018.8" font-size="17" text-anchor="start">f</text>
<text transform="translate(360.6,1010.6) scale(1.06,1.08)" font-size="23" text-anchor="start">=</text>
<text transform="translate(380.1,1010.6) scale(1,1.08)" font-size="23" text-anchor="start">4</text>
<text x="280.6" y="1084.6" font-size="27" text-anchor="middle">x</text>
<text x="517.0" y="629.8" font-size="29" text-anchor="start">(</text>
<text x="533.6" y="629.8" font-size="29" text-anchor="start">a</text>
<text x="546.8" y="614.9" font-size="18.5" text-anchor="start">3</text>
<text x="547.0" y="639.6" font-size="20.5" text-anchor="start">S</text>
<text x="563.8" y="629.8" font-size="29" text-anchor="start">c</text>
<text x="577.4" y="614.6" font-size="20" text-anchor="start">(3)</text>
<text x="578.0" y="639.6" font-size="20" text-anchor="start">2,q</text>
<circle cx="622.3" cy="619.9" r="9.4" fill="none" stroke="#000" stroke-width="1.7"/>
<path d="M617.5,615.1l9.6,9.6M617.5,624.7l9.6,-9.6" stroke="#000" stroke-width="1.5" fill="none"/>
<text x="641.4" y="629.8" font-size="29" text-anchor="start">f</text>
<text x="655.5" y="629.8" font-size="29" text-anchor="start">)</text>
<path d="M674.4,630.2L681.2,610.2" stroke="#000" stroke-width="2.1" fill="none"/>
<text x="688.6" y="629.8" font-size="29" text-anchor="start">f</text>
<text x="543.4" y="682.2" font-size="23" text-anchor="start">xf = x</text>
<text x="600.3" y="670.6" font-size="15" text-anchor="start">0.5</text>
<text x="625.6" y="682.2" font-size="23" text-anchor="start">(1-x)</text>
<text x="672.8" y="670.4" font-size="15" text-anchor="start">3</text>
<circle cx="509.6" cy="728.0" r="1.95" fill="#1f7a1f"/>
<circle cx="523.1" cy="728.0" r="1.95" fill="#1f7a1f"/>
<circle cx="536.7" cy="728.0" r="1.95" fill="#1f7a1f"/>
<circle cx="550.1" cy="728.0" r="1.95" fill="#1f7a1f"/>
<path d="M507.3,733.7H516.7M526.1,733.7H535.3M544.9,733.7H553.4" stroke="#1f7a1f" stroke-width="1.7" fill="none"/>
<circle cx="507.3" cy="763.3" r="2.00" fill="#0000ff"/>
<circle cx="516.7" cy="763.3" r="2.00" fill="#0000ff"/>
<circle cx="526.1" cy="763.3" r="2.00" fill="#0000ff"/>
<circle cx="535.3" cy="763.3" r="2.00" fill="#0000ff"/>
<circle cx="544.9" cy="763.3" r="2.00" fill="#0000ff"/>
<circle cx="554.1" cy="763.3" r="2.00" fill="#0000ff"/>
<path d="M507.3,769.2H521.9M537.8,769.2H553.4" stroke="#0000ff" stroke-width="1.7" fill="none"/>
<circle cx="529.9" cy="769.2" r="2.00" fill="#0000ff"/>
<path d="M507.3,798.7H521.9M537.8,798.7H553.4" stroke="#ff0000" stroke-width="1.7" fill="none"/>
<path d="M507.3,804.7H516.7M526.1,804.7H535.3M544.9,804.7H553.4" stroke="#ff0000" stroke-width="1.7" fill="none"/>
<circle cx="521.2" cy="804.7" r="1.95" fill="#ff0000"/>
<circle cx="540.0" cy="804.7" r="1.95" fill="#ff0000"/>
<path d="M507.3,844.0H553.4" stroke="#000" stroke-width="1.7" fill="none"/>
<text x="570.0" y="737.3" font-size="20" text-anchor="start">1 / 2</text>
<text x="570.0" y="772.6" font-size="20" text-anchor="start">3 / 4</text>
<text x="570.0" y="807.0" font-size="20" text-anchor="start">5 / 6</text>
<text x="615.5" y="807.0" font-size="20" text-anchor="start">D</text>
<text x="629.6" y="813.3" font-size="14.5" text-anchor="start">k</text>
<text x="642.4" y="807.0" font-size="20" text-anchor="start">terms</text>
<text x="570.2" y="850.2" font-size="20" text-anchor="start">full</text>
<text x="694.2" y="1084.6" font-size="27" text-anchor="middle">x</text>
</g>
</svg>
</body></html>
